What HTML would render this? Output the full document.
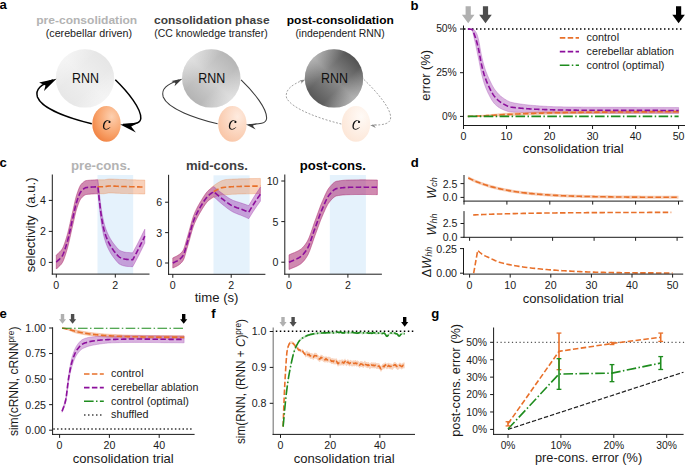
<!DOCTYPE html><html><head><meta charset="utf-8"><style>html,body{margin:0;padding:0;background:#fff;overflow:hidden}svg{display:block}text{font-family:"Liberation Sans",sans-serif}</style></head><body>
<svg width="685" height="465" viewBox="0 0 685 465">
<rect width="685" height="465" fill="#fff"/>
<text x="-0.5" y="9.2" font-size="13.12" text-anchor="start" fill="#000" font-weight="700">a</text>
<text x="410.5" y="9.5" font-size="13.12" text-anchor="start" fill="#000" font-weight="700">b</text>
<text x="-0.5" y="166.8" font-size="13.12" text-anchor="start" fill="#000" font-weight="700">c</text>
<text x="410.8" y="166.5" font-size="13.12" text-anchor="start" fill="#000" font-weight="700">d</text>
<text x="-0.5" y="318.3" font-size="13.12" text-anchor="start" fill="#000" font-weight="700">e</text>
<text x="211.3" y="317.8" font-size="13.12" text-anchor="start" fill="#000" font-weight="700">f</text>
<text x="431.2" y="318.2" font-size="13.12" text-anchor="start" fill="#000" font-weight="700">g</text>
<defs>
<linearGradient id="gPre" x1="1" y1="0" x2="0" y2="1"><stop offset="0" stop-color="#e2e2e2"/><stop offset="0.5" stop-color="#efefef"/><stop offset="1" stop-color="#e4e4e4"/></linearGradient>
<linearGradient id="gMid" x1="1" y1="0" x2="0" y2="1"><stop offset="0" stop-color="#ababab"/><stop offset="0.5" stop-color="#d0d0d0"/><stop offset="1" stop-color="#a8a8a8"/></linearGradient>
<linearGradient id="gPost" x1="1" y1="0" x2="0" y2="1"><stop offset="0" stop-color="#3c3c3c"/><stop offset="0.5" stop-color="#8a8a8a"/><stop offset="1" stop-color="#444444"/></linearGradient>
<linearGradient id="gOv" x1="0" y1="0" x2="1" y2="1"><stop offset="0" stop-color="#fff" stop-opacity="0.6"/><stop offset="0.38" stop-color="#fff" stop-opacity="0"/><stop offset="0.62" stop-color="#fff" stop-opacity="0"/><stop offset="1" stop-color="#fff" stop-opacity="0.6"/></linearGradient>
<radialGradient id="cPre" cx="0.68" cy="0.3" r="0.9"><stop offset="0" stop-color="#fdd0b0"/><stop offset="0.55" stop-color="#f8a26a"/><stop offset="1" stop-color="#ee7430"/></radialGradient>
<radialGradient id="cMid" cx="0.68" cy="0.3" r="0.9"><stop offset="0" stop-color="#feebdf"/><stop offset="1" stop-color="#f8bf9d"/></radialGradient>
<radialGradient id="cPost" cx="0.68" cy="0.3" r="0.9"><stop offset="0" stop-color="#fffaf6"/><stop offset="1" stop-color="#fce3d2"/></radialGradient>
</defs>
<text x="86.7" y="24" font-size="11.46" text-anchor="middle" fill="#b3b3b3" font-weight="700" textLength="100.99" lengthAdjust="spacingAndGlyphs">pre-consolidation</text>
<text x="88.9" y="37" font-size="10.42" text-anchor="middle" fill="#1a1a1a" textLength="86.34" lengthAdjust="spacingAndGlyphs">(cerebellar driven)</text>
<text x="211.8" y="24" font-size="11.46" text-anchor="middle" fill="#404040" font-weight="700" textLength="115.54" lengthAdjust="spacingAndGlyphs">consolidation phase</text>
<text x="211" y="37" font-size="10.42" text-anchor="middle" fill="#1a1a1a" textLength="113.29" lengthAdjust="spacingAndGlyphs">(CC knowledge transfer)</text>
<text x="340.3" y="24.2" font-size="11.46" text-anchor="middle" fill="#000" font-weight="700" textLength="107.02" lengthAdjust="spacingAndGlyphs">post-consolidation</text>
<text x="340.1" y="36.8" font-size="10.42" text-anchor="middle" fill="#1a1a1a" textLength="89.38" lengthAdjust="spacingAndGlyphs">(independent RNN)</text>
<circle cx="85" cy="78.4" r="29.2" fill="url(#gPre)"/>
<circle cx="85" cy="78.4" r="29.2" fill="url(#gOv)"/>
<ellipse cx="106.5" cy="123.9" rx="14.2" ry="17.95" fill="url(#cPre)"/>
<text x="85.5" y="82.9" font-size="13.78" text-anchor="middle" fill="#111" textLength="26.95" lengthAdjust="spacingAndGlyphs">RNN</text>
<path d="M110.1,120.9 C108.6,119.7 106.1,119.9 104.6,121.5 C102.9,123.3 102.6,126.7 103.3,128.3 C104.1,130 106.6,130.1 108.4,128.9 L110.4,127.3 L110.1,127.1 C108.6,128.6 106.6,129.3 105.3,128.8 C103.9,128 103.9,125.2 105.2,122.9 C106.2,121.2 107.9,120.5 108.8,120.9 C108.3,121.5 108.3,122.5 108.9,122.9 C109.7,123.3 110.7,122.5 110.7,121.7Z" fill="#111"/>
<circle cx="211.3" cy="78.4" r="29.2" fill="url(#gMid)"/>
<circle cx="211.3" cy="78.4" r="29.2" fill="url(#gOv)"/>
<ellipse cx="232.4" cy="123.9" rx="14.2" ry="17.95" fill="url(#cMid)"/>
<text x="211.8" y="82.9" font-size="13.78" text-anchor="middle" fill="#111" textLength="26.95" lengthAdjust="spacingAndGlyphs">RNN</text>
<path d="M236,120.9 C234.5,119.7 232,119.9 230.5,121.5 C228.8,123.3 228.5,126.7 229.2,128.3 C230,130 232.5,130.1 234.3,128.9 L236.3,127.3 L236,127.1 C234.5,128.6 232.5,129.3 231.2,128.8 C229.8,128 229.8,125.2 231.1,122.9 C232.1,121.2 233.8,120.5 234.7,120.9 C234.2,121.5 234.2,122.5 234.8,122.9 C235.6,123.3 236.6,122.5 236.6,121.7Z" fill="#111"/>
<circle cx="334" cy="78.4" r="29.2" fill="url(#gPost)"/>
<circle cx="334" cy="78.4" r="29.2" fill="url(#gOv)"/>
<ellipse cx="356" cy="123.9" rx="14.2" ry="17.95" fill="url(#cPost)"/>
<text x="334.5" y="82.9" font-size="13.78" text-anchor="middle" fill="#111" textLength="26.95" lengthAdjust="spacingAndGlyphs">RNN</text>
<path d="M359.6,120.9 C358.1,119.7 355.6,119.9 354.1,121.5 C352.4,123.3 352.1,126.7 352.8,128.3 C353.6,130 356.1,130.1 357.9,128.9 L359.9,127.3 L359.6,127.1 C358.1,128.6 356.1,129.3 354.8,128.8 C353.4,128 353.4,125.2 354.7,122.9 C355.7,121.2 357.4,120.5 358.3,120.9 C357.8,121.5 357.8,122.5 358.4,122.9 C359.2,123.3 360.2,122.5 360.2,121.7Z" fill="#111"/>
<path d="M115.3,79.8 C128,92 141.5,109 140.8,118.5 C140.4,123.6 134,124.3 123,124.5" fill="none" stroke="#000" stroke-width="1.5" />
<path d="M91.8,123.8 C70,118.5 42,109 37.4,97 C35,89 41,84.5 53,80" fill="none" stroke="#000" stroke-width="1.5" />
<path d="M120.2,124.5 L138.6,122.7 L131.2,126.5 L135.9,132.5Z" fill="#000"/>
<path d="M56.5,78.7 L39.1,82.6 L45.5,85.5 L44,91Z" fill="#000"/>
<path d="M241.1,79.8 C253.8,92 267.3,109 266.6,118.5 C266.2,123.6 259.8,124.3 248.8,124.5" fill="none" stroke="#3a3a3a" stroke-width="1.05" />
<path d="M217.6,123.8 C195.8,118.5 167.8,109 163.2,97 C160.8,89 166.8,84.5 178.8,80" fill="none" stroke="#3a3a3a" stroke-width="1.05" />
<path d="M246,124.5 L257.41,123.38 L252.82,125.74 L255.73,129.46Z" fill="#3a3a3a"/>
<path d="M182.3,78.7 L171.51,81.12 L175.48,82.92 L174.55,86.33Z" fill="#3a3a3a"/>
<path d="M364,79.6 C377,92 391.5,109 390.6,118 C390.2,123.8 384,125 372,125.2" fill="none" stroke="#8a8a8a" stroke-width="0.8" stroke-dasharray="2,1.6"/>
<path d="M341.3,124 C320,118.8 292,109 286.6,98 C284.5,90 292,84.5 303,80.2" fill="none" stroke="#8a8a8a" stroke-width="0.8" stroke-dasharray="2,1.6"/>
<path d="M370.2,125.2 L376.5,124.2 L374.2,125.6 L375.8,128Z" fill="#8a8a8a"/>
<path d="M305.4,79.6 L299.5,80.6 L301.6,82 L300.7,84Z" fill="#8a8a8a"/>
<path d="M465.6,6.3 L470.8,6.3 L470.8,14.8 L474.5,14.8 L468.2,23.3 L461.9,14.8 L465.6,14.8Z" fill="#b0b0b0"/>
<path d="M482.9,6.3 L488.1,6.3 L488.1,14.8 L491.8,14.8 L485.5,23.3 L479.2,14.8 L482.9,14.8Z" fill="#4d4d4d"/>
<path d="M676,6.3 L681.2,6.3 L681.2,14.8 L684.9,14.8 L678.6,23.3 L672.3,14.8 L676,14.8Z" fill="#000"/>
<line x1="464" y1="29" x2="682" y2="29" stroke="#000" stroke-width="1.5" stroke-dasharray="1.5,2.5"/>
<path d="M467.8,29 L468.51,29 L469.21,29 L469.92,29 L470.62,29 L471.33,29 L472.03,28.98 L472.74,28.96 L473.44,29.13 L474.15,29.76 L474.85,30.71 L475.56,31.55 L476.26,32.67 L476.97,34.21 L477.67,36.22 L478.38,38.78 L479.08,42.17 L479.79,46.11 L480.49,50.15 L481.2,53.88 L481.9,57.14 L482.61,60.21 L483.31,63.03 L484.02,65.58 L484.72,67.84 L485.43,69.93 L486.13,71.88 L486.84,73.71 L487.54,75.43 L488.25,77.07 L488.95,78.63 L489.66,80.13 L490.36,81.62 L491.07,83.06 L491.77,84.46 L492.48,85.79 L493.18,87.04 L493.89,88.19 L494.59,89.23 L495.3,90.18 L496,91.09 L496.71,91.96 L497.41,92.79 L498.12,93.58 L498.82,94.33 L499.53,95.03 L500.23,95.69 L500.94,96.3 L501.64,96.87 L502.35,97.39 L503.05,97.9 L503.76,98.4 L504.46,98.88 L505.17,99.35 L505.87,99.8 L506.58,100.23 L507.28,100.63 L507.99,101 L508.69,101.35 L509.4,101.65 L510.1,101.92 L510.81,102.15 L511.51,102.35 L512.22,102.52 L512.92,102.68 L513.63,102.83 L514.33,102.97 L515.04,103.11 L515.74,103.23 L516.45,103.35 L517.15,103.47 L517.86,103.58 L518.56,103.68 L519.27,103.79 L519.97,103.89 L520.68,103.99 L521.38,104.1 L522.09,104.2 L522.79,104.3 L523.5,104.39 L524.2,104.49 L524.91,104.58 L525.61,104.67 L526.32,104.75 L527.02,104.84 L527.73,104.92 L528.43,104.99 L529.14,105.06 L529.84,105.14 L530.55,105.2 L531.25,105.27 L531.96,105.33 L532.66,105.39 L533.37,105.45 L534.07,105.5 L534.78,105.56 L535.48,105.61 L536.19,105.67 L536.89,105.72 L537.6,105.77 L538.3,105.82 L539.01,105.88 L539.71,105.93 L540.42,105.97 L541.12,106.02 L541.83,106.07 L542.53,106.11 L543.24,106.16 L543.94,106.2 L544.65,106.24 L545.35,106.28 L546.06,106.32 L546.76,106.36 L547.47,106.4 L548.17,106.43 L548.88,106.47 L549.58,106.5 L550.29,106.53 L550.99,106.56 L551.7,106.59 L552.4,106.62 L553.11,106.65 L553.81,106.67 L554.52,106.69 L555.22,106.72 L555.93,106.73 L556.63,106.75 L557.34,106.77 L558.04,106.78 L558.75,106.8 L559.45,106.81 L560.16,106.82 L560.86,106.84 L561.57,106.85 L562.27,106.86 L562.98,106.88 L563.68,106.89 L564.39,106.9 L565.09,106.91 L565.8,106.92 L566.5,106.93 L567.21,106.95 L567.91,106.96 L568.62,106.97 L569.32,106.98 L570.03,106.99 L570.73,107 L571.44,107.01 L572.14,107.02 L572.85,107.03 L573.55,107.04 L574.26,107.05 L574.96,107.06 L575.67,107.07 L576.37,107.07 L577.08,107.08 L577.78,107.09 L578.49,107.1 L579.19,107.11 L579.9,107.12 L580.6,107.12 L581.31,107.13 L582.01,107.14 L582.72,107.14 L583.42,107.15 L584.13,107.16 L584.83,107.16 L585.54,107.17 L586.24,107.18 L586.95,107.18 L587.65,107.19 L588.36,107.19 L589.06,107.2 L589.77,107.2 L590.47,107.21 L591.18,107.21 L591.88,107.21 L592.59,107.22 L593.29,107.22 L594,107.23 L594.7,107.23 L595.41,107.23 L596.11,107.24 L596.82,107.24 L597.52,107.24 L598.23,107.25 L598.93,107.25 L599.64,107.25 L600.34,107.26 L601.05,107.26 L601.75,107.26 L602.46,107.27 L603.16,107.27 L603.87,107.27 L604.57,107.28 L605.28,107.28 L605.98,107.28 L606.69,107.28 L607.39,107.29 L608.1,107.29 L608.8,107.29 L609.51,107.29 L610.21,107.3 L610.92,107.3 L611.62,107.3 L612.33,107.31 L613.03,107.31 L613.74,107.31 L614.44,107.31 L615.15,107.31 L615.85,107.32 L616.56,107.32 L617.26,107.32 L617.97,107.32 L618.67,107.33 L619.38,107.33 L620.08,107.33 L620.79,107.33 L621.49,107.33 L622.2,107.34 L622.9,107.34 L623.61,107.34 L624.31,107.34 L625.02,107.34 L625.72,107.35 L626.43,107.35 L627.13,107.35 L627.84,107.35 L628.54,107.35 L629.25,107.36 L629.95,107.36 L630.66,107.36 L631.36,107.36 L632.07,107.36 L632.77,107.37 L633.48,107.37 L634.18,107.37 L634.89,107.37 L635.59,107.37 L636.3,107.37 L637,107.38 L637.71,107.38 L638.41,107.38 L639.12,107.38 L639.82,107.38 L640.53,107.38 L641.23,107.39 L641.94,107.39 L642.64,107.39 L643.35,107.39 L644.05,107.39 L644.76,107.39 L645.46,107.4 L646.17,107.4 L646.87,107.4 L647.58,107.4 L648.28,107.4 L648.99,107.4 L649.69,107.41 L650.4,107.41 L651.1,107.41 L651.81,107.41 L652.51,107.41 L653.22,107.41 L653.92,107.42 L654.63,107.42 L655.33,107.42 L656.04,107.42 L656.74,107.42 L657.45,107.42 L658.15,107.43 L658.86,107.43 L659.56,107.43 L660.27,107.43 L660.97,107.43 L661.68,107.43 L662.38,107.44 L663.09,107.44 L663.79,107.44 L664.5,107.44 L665.2,107.44 L665.91,107.45 L666.61,107.45 L667.32,107.45 L668.02,107.45 L668.73,107.45 L669.43,107.46 L670.14,107.46 L670.84,107.46 L671.55,107.46 L672.25,107.46 L672.96,107.47 L673.66,107.47 L674.37,107.47 L675.07,107.47 L675.78,107.48 L676.48,107.48 L677.19,107.48 L677.89,107.48 L678.6,107.49 L678.6,113.43 L677.89,113.43 L677.19,113.43 L676.48,113.43 L675.78,113.43 L675.07,113.43 L674.37,113.43 L673.66,113.43 L672.96,113.43 L672.25,113.42 L671.55,113.42 L670.84,113.42 L670.14,113.42 L669.43,113.42 L668.73,113.42 L668.02,113.42 L667.32,113.42 L666.61,113.42 L665.91,113.42 L665.2,113.42 L664.5,113.42 L663.79,113.42 L663.09,113.42 L662.38,113.42 L661.68,113.42 L660.97,113.42 L660.27,113.42 L659.56,113.42 L658.86,113.42 L658.15,113.42 L657.45,113.42 L656.74,113.42 L656.04,113.42 L655.33,113.42 L654.63,113.42 L653.92,113.42 L653.22,113.41 L652.51,113.41 L651.81,113.41 L651.1,113.41 L650.4,113.41 L649.69,113.41 L648.99,113.41 L648.28,113.41 L647.58,113.41 L646.87,113.41 L646.17,113.41 L645.46,113.41 L644.76,113.41 L644.05,113.41 L643.35,113.41 L642.64,113.41 L641.94,113.41 L641.23,113.41 L640.53,113.41 L639.82,113.41 L639.12,113.41 L638.41,113.41 L637.71,113.41 L637,113.4 L636.3,113.4 L635.59,113.4 L634.89,113.4 L634.18,113.4 L633.48,113.4 L632.77,113.4 L632.07,113.4 L631.36,113.4 L630.66,113.4 L629.95,113.4 L629.25,113.4 L628.54,113.4 L627.84,113.4 L627.13,113.4 L626.43,113.4 L625.72,113.39 L625.02,113.39 L624.31,113.39 L623.61,113.39 L622.9,113.39 L622.2,113.39 L621.49,113.39 L620.79,113.39 L620.08,113.39 L619.38,113.39 L618.67,113.39 L617.97,113.39 L617.26,113.39 L616.56,113.38 L615.85,113.38 L615.15,113.38 L614.44,113.38 L613.74,113.38 L613.03,113.38 L612.33,113.38 L611.62,113.38 L610.92,113.38 L610.21,113.38 L609.51,113.38 L608.8,113.37 L608.1,113.37 L607.39,113.37 L606.69,113.37 L605.98,113.37 L605.28,113.37 L604.57,113.37 L603.87,113.37 L603.16,113.37 L602.46,113.36 L601.75,113.36 L601.05,113.36 L600.34,113.36 L599.64,113.36 L598.93,113.36 L598.23,113.36 L597.52,113.36 L596.82,113.35 L596.11,113.35 L595.41,113.35 L594.7,113.35 L594,113.35 L593.29,113.35 L592.59,113.35 L591.88,113.34 L591.18,113.34 L590.47,113.34 L589.77,113.34 L589.06,113.34 L588.36,113.33 L587.65,113.33 L586.95,113.33 L586.24,113.33 L585.54,113.32 L584.83,113.32 L584.13,113.32 L583.42,113.31 L582.72,113.31 L582.01,113.3 L581.31,113.3 L580.6,113.3 L579.9,113.29 L579.19,113.29 L578.49,113.28 L577.78,113.28 L577.08,113.27 L576.37,113.27 L575.67,113.26 L574.96,113.25 L574.26,113.25 L573.55,113.24 L572.85,113.24 L572.14,113.23 L571.44,113.22 L570.73,113.22 L570.03,113.21 L569.32,113.2 L568.62,113.2 L567.91,113.19 L567.21,113.18 L566.5,113.18 L565.8,113.17 L565.09,113.16 L564.39,113.15 L563.68,113.15 L562.98,113.14 L562.27,113.13 L561.57,113.12 L560.86,113.11 L560.16,113.1 L559.45,113.1 L558.75,113.09 L558.04,113.08 L557.34,113.07 L556.63,113.06 L555.93,113.05 L555.22,113.04 L554.52,113.03 L553.81,113.03 L553.11,113.02 L552.4,113.01 L551.7,113 L550.99,112.99 L550.29,112.98 L549.58,112.98 L548.88,112.97 L548.17,112.96 L547.47,112.95 L546.76,112.94 L546.06,112.94 L545.35,112.93 L544.65,112.92 L543.94,112.91 L543.24,112.9 L542.53,112.89 L541.83,112.89 L541.12,112.88 L540.42,112.87 L539.71,112.86 L539.01,112.85 L538.3,112.84 L537.6,112.83 L536.89,112.82 L536.19,112.81 L535.48,112.8 L534.78,112.79 L534.07,112.78 L533.37,112.77 L532.66,112.76 L531.96,112.75 L531.25,112.74 L530.55,112.72 L529.84,112.7 L529.14,112.68 L528.43,112.65 L527.73,112.63 L527.02,112.6 L526.32,112.58 L525.61,112.55 L524.91,112.52 L524.2,112.49 L523.5,112.47 L522.79,112.44 L522.09,112.42 L521.38,112.39 L520.68,112.37 L519.97,112.35 L519.27,112.33 L518.56,112.31 L517.86,112.3 L517.15,112.28 L516.45,112.26 L515.74,112.24 L515.04,112.22 L514.33,112.19 L513.63,112.16 L512.92,112.12 L512.22,112.07 L511.51,112.02 L510.81,111.95 L510.1,111.84 L509.4,111.72 L508.69,111.56 L507.99,111.38 L507.28,111.19 L506.58,110.97 L505.87,110.73 L505.17,110.48 L504.46,110.21 L503.76,109.93 L503.05,109.64 L502.35,109.34 L501.64,109.02 L500.94,108.66 L500.23,108.27 L499.53,107.85 L498.82,107.39 L498.12,106.89 L497.41,106.36 L496.71,105.79 L496,105.18 L495.3,104.52 L494.59,103.83 L493.89,103.04 L493.18,102.12 L492.48,101.1 L491.77,99.98 L491.07,98.79 L490.36,97.52 L489.66,96.2 L488.95,94.85 L488.25,93.44 L487.54,91.95 L486.84,90.36 L486.13,88.68 L485.43,86.88 L484.72,84.95 L484.02,82.86 L483.31,80.51 L482.61,77.93 L481.9,75.18 L481.2,72.27 L480.49,68.87 L479.79,65.11 L479.08,61.36 L478.38,57.98 L477.67,54.7 L476.97,51.22 L476.26,47.71 L475.56,44.34 L474.85,41.23 L474.15,38.18 L473.44,34.99 L472.74,32.05 L472.03,30.08 L471.33,29.59 L470.62,29.41 L469.92,29.29 L469.21,29.2 L468.51,29.11 L467.8,29Z" fill="#a040b0" fill-opacity="0.4" stroke="#a040b0" stroke-opacity="0.36000000000000004" stroke-width="0.9"/>
<path d="M467.8,116.4 L468.51,116.35 L469.21,116.29 L469.92,116.24 L470.62,116.19 L471.33,116.14 L472.03,116.08 L472.74,116.03 L473.44,115.98 L474.15,115.93 L474.85,115.87 L475.56,115.82 L476.26,115.77 L476.97,115.72 L477.67,115.66 L478.38,115.61 L479.08,115.56 L479.79,115.5 L480.49,115.45 L481.2,115.39 L481.9,115.34 L482.61,115.28 L483.31,115.23 L484.02,115.17 L484.72,115.11 L485.43,115.05 L486.13,114.99 L486.84,114.93 L487.54,114.87 L488.25,114.81 L488.95,114.74 L489.66,114.68 L490.36,114.61 L491.07,114.55 L491.77,114.48 L492.48,114.41 L493.18,114.34 L493.89,114.27 L494.59,114.21 L495.3,114.14 L496,114.07 L496.71,114 L497.41,113.93 L498.12,113.86 L498.82,113.79 L499.53,113.73 L500.23,113.66 L500.94,113.59 L501.64,113.53 L502.35,113.47 L503.05,113.43 L503.76,113.39 L504.46,113.35 L505.17,113.32 L505.87,113.28 L506.58,113.25 L507.28,113.22 L507.99,113.19 L508.69,113.15 L509.4,113.12 L510.1,113.09 L510.81,113.06 L511.51,113.03 L512.22,113 L512.92,112.97 L513.63,112.94 L514.33,112.9 L515.04,112.87 L515.74,112.84 L516.45,112.81 L517.15,112.78 L517.86,112.75 L518.56,112.72 L519.27,112.69 L519.97,112.66 L520.68,112.63 L521.38,112.61 L522.09,112.58 L522.79,112.55 L523.5,112.52 L524.2,112.49 L524.91,112.46 L525.61,112.44 L526.32,112.41 L527.02,112.38 L527.73,112.35 L528.43,112.33 L529.14,112.3 L529.84,112.28 L530.55,112.25 L531.25,112.22 L531.96,112.2 L532.66,112.17 L533.37,112.15 L534.07,112.12 L534.78,112.1 L535.48,112.08 L536.19,112.05 L536.89,112.03 L537.6,112.01 L538.3,111.99 L539.01,111.96 L539.71,111.94 L540.42,111.92 L541.12,111.9 L541.83,111.88 L542.53,111.86 L543.24,111.84 L543.94,111.82 L544.65,111.8 L545.35,111.78 L546.06,111.76 L546.76,111.75 L547.47,111.73 L548.17,111.71 L548.88,111.7 L549.58,111.68 L550.29,111.66 L550.99,111.65 L551.7,111.63 L552.4,111.62 L553.11,111.6 L553.81,111.59 L554.52,111.57 L555.22,111.56 L555.93,111.54 L556.63,111.53 L557.34,111.51 L558.04,111.5 L558.75,111.48 L559.45,111.47 L560.16,111.46 L560.86,111.44 L561.57,111.43 L562.27,111.42 L562.98,111.4 L563.68,111.39 L564.39,111.38 L565.09,111.36 L565.8,111.35 L566.5,111.34 L567.21,111.33 L567.91,111.31 L568.62,111.3 L569.32,111.29 L570.03,111.28 L570.73,111.27 L571.44,111.25 L572.14,111.24 L572.85,111.23 L573.55,111.22 L574.26,111.21 L574.96,111.2 L575.67,111.19 L576.37,111.18 L577.08,111.17 L577.78,111.16 L578.49,111.15 L579.19,111.14 L579.9,111.13 L580.6,111.12 L581.31,111.11 L582.01,111.1 L582.72,111.09 L583.42,111.08 L584.13,111.07 L584.83,111.06 L585.54,111.06 L586.24,111.05 L586.95,111.04 L587.65,111.03 L588.36,111.02 L589.06,111.02 L589.77,111.01 L590.47,111 L591.18,110.99 L591.88,110.99 L592.59,110.98 L593.29,110.97 L594,110.97 L594.7,110.96 L595.41,110.96 L596.11,110.95 L596.82,110.94 L597.52,110.94 L598.23,110.93 L598.93,110.92 L599.64,110.92 L600.34,110.91 L601.05,110.91 L601.75,110.9 L602.46,110.9 L603.16,110.89 L603.87,110.88 L604.57,110.88 L605.28,110.87 L605.98,110.87 L606.69,110.86 L607.39,110.86 L608.1,110.85 L608.8,110.85 L609.51,110.84 L610.21,110.84 L610.92,110.83 L611.62,110.83 L612.33,110.82 L613.03,110.82 L613.74,110.81 L614.44,110.81 L615.15,110.8 L615.85,110.8 L616.56,110.79 L617.26,110.79 L617.97,110.79 L618.67,110.78 L619.38,110.78 L620.08,110.77 L620.79,110.77 L621.49,110.76 L622.2,110.76 L622.9,110.76 L623.61,110.75 L624.31,110.75 L625.02,110.74 L625.72,110.74 L626.43,110.73 L627.13,110.73 L627.84,110.73 L628.54,110.72 L629.25,110.72 L629.95,110.71 L630.66,110.71 L631.36,110.71 L632.07,110.7 L632.77,110.7 L633.48,110.7 L634.18,110.69 L634.89,110.69 L635.59,110.68 L636.3,110.68 L637,110.68 L637.71,110.67 L638.41,110.67 L639.12,110.67 L639.82,110.66 L640.53,110.66 L641.23,110.65 L641.94,110.65 L642.64,110.65 L643.35,110.64 L644.05,110.64 L644.76,110.64 L645.46,110.63 L646.17,110.63 L646.87,110.63 L647.58,110.62 L648.28,110.62 L648.99,110.62 L649.69,110.61 L650.4,110.61 L651.1,110.6 L651.81,110.6 L652.51,110.6 L653.22,110.59 L653.92,110.59 L654.63,110.59 L655.33,110.58 L656.04,110.58 L656.74,110.58 L657.45,110.57 L658.15,110.57 L658.86,110.57 L659.56,110.56 L660.27,110.56 L660.97,110.55 L661.68,110.55 L662.38,110.55 L663.09,110.54 L663.79,110.54 L664.5,110.54 L665.2,110.53 L665.91,110.53 L666.61,110.53 L667.32,110.52 L668.02,110.52 L668.73,110.51 L669.43,110.51 L670.14,110.51 L670.84,110.5 L671.55,110.5 L672.25,110.49 L672.96,110.49 L673.66,110.49 L674.37,110.48 L675.07,110.48 L675.78,110.47 L676.48,110.47 L677.19,110.47 L677.89,110.46 L678.6,110.46 L678.6,112.9 L677.89,112.91 L677.19,112.91 L676.48,112.92 L675.78,112.92 L675.07,112.93 L674.37,112.93 L673.66,112.93 L672.96,112.94 L672.25,112.94 L671.55,112.95 L670.84,112.95 L670.14,112.95 L669.43,112.96 L668.73,112.96 L668.02,112.96 L667.32,112.97 L666.61,112.97 L665.91,112.98 L665.2,112.98 L664.5,112.98 L663.79,112.99 L663.09,112.99 L662.38,112.99 L661.68,113 L660.97,113 L660.27,113.01 L659.56,113.01 L658.86,113.01 L658.15,113.02 L657.45,113.02 L656.74,113.02 L656.04,113.03 L655.33,113.03 L654.63,113.03 L653.92,113.04 L653.22,113.04 L652.51,113.05 L651.81,113.05 L651.1,113.05 L650.4,113.06 L649.69,113.06 L648.99,113.06 L648.28,113.07 L647.58,113.07 L646.87,113.07 L646.17,113.08 L645.46,113.08 L644.76,113.08 L644.05,113.09 L643.35,113.09 L642.64,113.09 L641.94,113.1 L641.23,113.1 L640.53,113.11 L639.82,113.11 L639.12,113.11 L638.41,113.12 L637.71,113.12 L637,113.12 L636.3,113.13 L635.59,113.13 L634.89,113.13 L634.18,113.14 L633.48,113.14 L632.77,113.15 L632.07,113.15 L631.36,113.15 L630.66,113.16 L629.95,113.16 L629.25,113.17 L628.54,113.17 L627.84,113.17 L627.13,113.18 L626.43,113.18 L625.72,113.19 L625.02,113.19 L624.31,113.19 L623.61,113.2 L622.9,113.2 L622.2,113.21 L621.49,113.21 L620.79,113.22 L620.08,113.22 L619.38,113.22 L618.67,113.23 L617.97,113.23 L617.26,113.24 L616.56,113.24 L615.85,113.25 L615.15,113.25 L614.44,113.26 L613.74,113.26 L613.03,113.27 L612.33,113.27 L611.62,113.27 L610.92,113.28 L610.21,113.28 L609.51,113.29 L608.8,113.29 L608.1,113.3 L607.39,113.31 L606.69,113.31 L605.98,113.32 L605.28,113.32 L604.57,113.33 L603.87,113.33 L603.16,113.34 L602.46,113.34 L601.75,113.35 L601.05,113.35 L600.34,113.36 L599.64,113.37 L598.93,113.37 L598.23,113.38 L597.52,113.38 L596.82,113.39 L596.11,113.4 L595.41,113.4 L594.7,113.41 L594,113.42 L593.29,113.42 L592.59,113.43 L591.88,113.43 L591.18,113.44 L590.47,113.45 L589.77,113.46 L589.06,113.46 L588.36,113.47 L587.65,113.48 L586.95,113.49 L586.24,113.49 L585.54,113.5 L584.83,113.51 L584.13,113.52 L583.42,113.53 L582.72,113.54 L582.01,113.55 L581.31,113.56 L580.6,113.56 L579.9,113.57 L579.19,113.58 L578.49,113.59 L577.78,113.6 L577.08,113.61 L576.37,113.62 L575.67,113.63 L574.96,113.65 L574.26,113.66 L573.55,113.67 L572.85,113.68 L572.14,113.69 L571.44,113.7 L570.73,113.71 L570.03,113.72 L569.32,113.74 L568.62,113.75 L567.91,113.76 L567.21,113.77 L566.5,113.78 L565.8,113.8 L565.09,113.81 L564.39,113.82 L563.68,113.84 L562.98,113.85 L562.27,113.86 L561.57,113.88 L560.86,113.89 L560.16,113.9 L559.45,113.92 L558.75,113.93 L558.04,113.95 L557.34,113.96 L556.63,113.97 L555.93,113.99 L555.22,114 L554.52,114.02 L553.81,114.03 L553.11,114.05 L552.4,114.06 L551.7,114.08 L550.99,114.1 L550.29,114.11 L549.58,114.13 L548.88,114.14 L548.17,114.16 L547.47,114.18 L546.76,114.19 L546.06,114.21 L545.35,114.23 L544.65,114.25 L543.94,114.27 L543.24,114.29 L542.53,114.31 L541.83,114.33 L541.12,114.35 L540.42,114.37 L539.71,114.39 L539.01,114.41 L538.3,114.43 L537.6,114.45 L536.89,114.48 L536.19,114.5 L535.48,114.52 L534.78,114.55 L534.07,114.57 L533.37,114.6 L532.66,114.62 L531.96,114.65 L531.25,114.67 L530.55,114.7 L529.84,114.72 L529.14,114.75 L528.43,114.77 L527.73,114.8 L527.02,114.83 L526.32,114.86 L525.61,114.88 L524.91,114.91 L524.2,114.94 L523.5,114.97 L522.79,114.99 L522.09,115.02 L521.38,115.05 L520.68,115.08 L519.97,115.11 L519.27,115.14 L518.56,115.17 L517.86,115.2 L517.15,115.23 L516.45,115.26 L515.74,115.29 L515.04,115.32 L514.33,115.35 L513.63,115.38 L512.92,115.41 L512.22,115.44 L511.51,115.48 L510.81,115.51 L510.1,115.54 L509.4,115.57 L508.69,115.6 L507.99,115.63 L507.28,115.67 L506.58,115.7 L505.87,115.73 L505.17,115.77 L504.46,115.8 L503.76,115.84 L503.05,115.88 L502.35,115.91 L501.64,115.93 L500.94,115.95 L500.23,115.97 L499.53,115.98 L498.82,116 L498.12,116.02 L497.41,116.04 L496.71,116.05 L496,116.07 L495.3,116.09 L494.59,116.11 L493.89,116.13 L493.18,116.15 L492.48,116.17 L491.77,116.18 L491.07,116.2 L490.36,116.22 L489.66,116.23 L488.95,116.25 L488.25,116.26 L487.54,116.27 L486.84,116.29 L486.13,116.3 L485.43,116.31 L484.72,116.32 L484.02,116.32 L483.31,116.33 L482.61,116.34 L481.9,116.34 L481.2,116.35 L480.49,116.35 L479.79,116.36 L479.08,116.36 L478.38,116.36 L477.67,116.37 L476.97,116.37 L476.26,116.37 L475.56,116.37 L474.85,116.38 L474.15,116.38 L473.44,116.38 L472.74,116.38 L472.03,116.38 L471.33,116.39 L470.62,116.39 L469.92,116.39 L469.21,116.39 L468.51,116.4 L467.8,116.4Z" fill="#e8702a" fill-opacity="0.32" stroke="#e8702a" stroke-opacity="0.28800000000000003" stroke-width="0.9"/>
<path d="M467.8,116.4 L468.51,116.37 L469.21,116.34 L469.92,116.32 L470.62,116.29 L471.33,116.26 L472.03,116.23 L472.74,116.21 L473.44,116.18 L474.15,116.15 L474.85,116.12 L475.56,116.1 L476.26,116.07 L476.97,116.04 L477.67,116.01 L478.38,115.99 L479.08,115.96 L479.79,115.93 L480.49,115.9 L481.2,115.87 L481.9,115.84 L482.61,115.81 L483.31,115.78 L484.02,115.75 L484.72,115.71 L485.43,115.68 L486.13,115.65 L486.84,115.61 L487.54,115.57 L488.25,115.53 L488.95,115.5 L489.66,115.46 L490.36,115.41 L491.07,115.37 L491.77,115.33 L492.48,115.29 L493.18,115.24 L493.89,115.2 L494.59,115.16 L495.3,115.11 L496,115.07 L496.71,115.03 L497.41,114.98 L498.12,114.94 L498.82,114.9 L499.53,114.85 L500.23,114.81 L500.94,114.77 L501.64,114.73 L502.35,114.69 L503.05,114.65 L503.76,114.61 L504.46,114.58 L505.17,114.54 L505.87,114.51 L506.58,114.47 L507.28,114.44 L507.99,114.41 L508.69,114.38 L509.4,114.35 L510.1,114.32 L510.81,114.28 L511.51,114.25 L512.22,114.22 L512.92,114.19 L513.63,114.16 L514.33,114.13 L515.04,114.1 L515.74,114.07 L516.45,114.04 L517.15,114.01 L517.86,113.98 L518.56,113.95 L519.27,113.92 L519.97,113.89 L520.68,113.86 L521.38,113.83 L522.09,113.8 L522.79,113.77 L523.5,113.74 L524.2,113.71 L524.91,113.69 L525.61,113.66 L526.32,113.63 L527.02,113.6 L527.73,113.58 L528.43,113.55 L529.14,113.52 L529.84,113.5 L530.55,113.47 L531.25,113.45 L531.96,113.42 L532.66,113.4 L533.37,113.37 L534.07,113.35 L534.78,113.32 L535.48,113.3 L536.19,113.28 L536.89,113.25 L537.6,113.23 L538.3,113.21 L539.01,113.19 L539.71,113.17 L540.42,113.14 L541.12,113.12 L541.83,113.1 L542.53,113.08 L543.24,113.06 L543.94,113.04 L544.65,113.02 L545.35,113.01 L546.06,112.99 L546.76,112.97 L547.47,112.95 L548.17,112.94 L548.88,112.92 L549.58,112.9 L550.29,112.89 L550.99,112.87 L551.7,112.86 L552.4,112.84 L553.11,112.83 L553.81,112.81 L554.52,112.8 L555.22,112.78 L555.93,112.77 L556.63,112.75 L557.34,112.74 L558.04,112.72 L558.75,112.71 L559.45,112.69 L560.16,112.68 L560.86,112.67 L561.57,112.65 L562.27,112.64 L562.98,112.63 L563.68,112.61 L564.39,112.6 L565.09,112.59 L565.8,112.57 L566.5,112.56 L567.21,112.55 L567.91,112.54 L568.62,112.52 L569.32,112.51 L570.03,112.5 L570.73,112.49 L571.44,112.48 L572.14,112.47 L572.85,112.45 L573.55,112.44 L574.26,112.43 L574.96,112.42 L575.67,112.41 L576.37,112.4 L577.08,112.39 L577.78,112.38 L578.49,112.37 L579.19,112.36 L579.9,112.35 L580.6,112.34 L581.31,112.33 L582.01,112.32 L582.72,112.31 L583.42,112.3 L584.13,112.3 L584.83,112.29 L585.54,112.28 L586.24,112.27 L586.95,112.26 L587.65,112.25 L588.36,112.25 L589.06,112.24 L589.77,112.23 L590.47,112.23 L591.18,112.22 L591.88,112.21 L592.59,112.2 L593.29,112.2 L594,112.19 L594.7,112.19 L595.41,112.18 L596.11,112.17 L596.82,112.17 L597.52,112.16 L598.23,112.15 L598.93,112.15 L599.64,112.14 L600.34,112.14 L601.05,112.13 L601.75,112.12 L602.46,112.12 L603.16,112.11 L603.87,112.11 L604.57,112.1 L605.28,112.1 L605.98,112.09 L606.69,112.09 L607.39,112.08 L608.1,112.08 L608.8,112.07 L609.51,112.07 L610.21,112.06 L610.92,112.06 L611.62,112.05 L612.33,112.05 L613.03,112.04 L613.74,112.04 L614.44,112.03 L615.15,112.03 L615.85,112.02 L616.56,112.02 L617.26,112.01 L617.97,112.01 L618.67,112 L619.38,112 L620.08,112 L620.79,111.99 L621.49,111.99 L622.2,111.98 L622.9,111.98 L623.61,111.97 L624.31,111.97 L625.02,111.97 L625.72,111.96 L626.43,111.96 L627.13,111.95 L627.84,111.95 L628.54,111.95 L629.25,111.94 L629.95,111.94 L630.66,111.93 L631.36,111.93 L632.07,111.93 L632.77,111.92 L633.48,111.92 L634.18,111.92 L634.89,111.91 L635.59,111.91 L636.3,111.9 L637,111.9 L637.71,111.9 L638.41,111.89 L639.12,111.89 L639.82,111.89 L640.53,111.88 L641.23,111.88 L641.94,111.87 L642.64,111.87 L643.35,111.87 L644.05,111.86 L644.76,111.86 L645.46,111.86 L646.17,111.85 L646.87,111.85 L647.58,111.85 L648.28,111.84 L648.99,111.84 L649.69,111.84 L650.4,111.83 L651.1,111.83 L651.81,111.83 L652.51,111.82 L653.22,111.82 L653.92,111.81 L654.63,111.81 L655.33,111.81 L656.04,111.8 L656.74,111.8 L657.45,111.8 L658.15,111.79 L658.86,111.79 L659.56,111.79 L660.27,111.78 L660.97,111.78 L661.68,111.77 L662.38,111.77 L663.09,111.77 L663.79,111.76 L664.5,111.76 L665.2,111.76 L665.91,111.75 L666.61,111.75 L667.32,111.74 L668.02,111.74 L668.73,111.74 L669.43,111.73 L670.14,111.73 L670.84,111.73 L671.55,111.72 L672.25,111.72 L672.96,111.71 L673.66,111.71 L674.37,111.71 L675.07,111.7 L675.78,111.7 L676.48,111.69 L677.19,111.69 L677.89,111.68 L678.6,111.68" fill="none" stroke="#e8702a" stroke-width="1.6" stroke-dasharray="5.5,2.4" stroke-linecap="butt" stroke-linejoin="round"/>
<path d="M467.8,29 L468.51,29.05 L469.21,29.1 L469.92,29.15 L470.62,29.21 L471.33,29.29 L472.03,29.53 L472.74,30.5 L473.44,32.06 L474.15,33.97 L474.85,35.97 L475.56,37.94 L476.26,40.19 L476.97,42.71 L477.67,45.46 L478.38,48.38 L479.08,51.77 L479.79,55.61 L480.49,59.51 L481.2,63.08 L481.9,66.16 L482.61,69.07 L483.31,71.77 L484.02,74.22 L484.72,76.4 L485.43,78.4 L486.13,80.28 L486.84,82.04 L487.54,83.69 L488.25,85.25 L488.95,86.74 L489.66,88.17 L490.36,89.57 L491.07,90.93 L491.77,92.22 L492.48,93.45 L493.18,94.58 L493.89,95.61 L494.59,96.53 L495.3,97.35 L496,98.13 L496.71,98.87 L497.41,99.58 L498.12,100.24 L498.82,100.86 L499.53,101.44 L500.23,101.98 L500.94,102.48 L501.64,102.94 L502.35,103.37 L503.05,103.77 L503.76,104.16 L504.46,104.55 L505.17,104.91 L505.87,105.27 L506.58,105.6 L507.28,105.91 L507.99,106.19 L508.69,106.45 L509.4,106.68 L510.1,106.88 L510.81,107.05 L511.51,107.18 L512.22,107.3 L512.92,107.4 L513.63,107.5 L514.33,107.58 L515.04,107.66 L515.74,107.74 L516.45,107.81 L517.15,107.87 L517.86,107.94 L518.56,108 L519.27,108.06 L519.97,108.12 L520.68,108.18 L521.38,108.24 L522.09,108.31 L522.79,108.37 L523.5,108.43 L524.2,108.49 L524.91,108.55 L525.61,108.61 L526.32,108.66 L527.02,108.72 L527.73,108.77 L528.43,108.82 L529.14,108.87 L529.84,108.92 L530.55,108.96 L531.25,109 L531.96,109.04 L532.66,109.07 L533.37,109.11 L534.07,109.14 L534.78,109.18 L535.48,109.21 L536.19,109.24 L536.89,109.27 L537.6,109.3 L538.3,109.33 L539.01,109.36 L539.71,109.39 L540.42,109.42 L541.12,109.45 L541.83,109.48 L542.53,109.5 L543.24,109.53 L543.94,109.56 L544.65,109.58 L545.35,109.61 L546.06,109.63 L546.76,109.65 L547.47,109.68 L548.17,109.7 L548.88,109.72 L549.58,109.74 L550.29,109.76 L550.99,109.78 L551.7,109.8 L552.4,109.81 L553.11,109.83 L553.81,109.85 L554.52,109.86 L555.22,109.88 L555.93,109.89 L556.63,109.91 L557.34,109.92 L558.04,109.93 L558.75,109.94 L559.45,109.95 L560.16,109.96 L560.86,109.97 L561.57,109.99 L562.27,110 L562.98,110.01 L563.68,110.02 L564.39,110.03 L565.09,110.04 L565.8,110.05 L566.5,110.06 L567.21,110.06 L567.91,110.07 L568.62,110.08 L569.32,110.09 L570.03,110.1 L570.73,110.11 L571.44,110.12 L572.14,110.13 L572.85,110.13 L573.55,110.14 L574.26,110.15 L574.96,110.16 L575.67,110.16 L576.37,110.17 L577.08,110.18 L577.78,110.18 L578.49,110.19 L579.19,110.2 L579.9,110.2 L580.6,110.21 L581.31,110.21 L582.01,110.22 L582.72,110.23 L583.42,110.23 L584.13,110.24 L584.83,110.24 L585.54,110.25 L586.24,110.25 L586.95,110.25 L587.65,110.26 L588.36,110.26 L589.06,110.27 L589.77,110.27 L590.47,110.27 L591.18,110.28 L591.88,110.28 L592.59,110.28 L593.29,110.28 L594,110.29 L594.7,110.29 L595.41,110.29 L596.11,110.29 L596.82,110.3 L597.52,110.3 L598.23,110.3 L598.93,110.3 L599.64,110.31 L600.34,110.31 L601.05,110.31 L601.75,110.31 L602.46,110.32 L603.16,110.32 L603.87,110.32 L604.57,110.32 L605.28,110.32 L605.98,110.33 L606.69,110.33 L607.39,110.33 L608.1,110.33 L608.8,110.33 L609.51,110.34 L610.21,110.34 L610.92,110.34 L611.62,110.34 L612.33,110.34 L613.03,110.34 L613.74,110.35 L614.44,110.35 L615.15,110.35 L615.85,110.35 L616.56,110.35 L617.26,110.35 L617.97,110.36 L618.67,110.36 L619.38,110.36 L620.08,110.36 L620.79,110.36 L621.49,110.36 L622.2,110.36 L622.9,110.37 L623.61,110.37 L624.31,110.37 L625.02,110.37 L625.72,110.37 L626.43,110.37 L627.13,110.37 L627.84,110.37 L628.54,110.38 L629.25,110.38 L629.95,110.38 L630.66,110.38 L631.36,110.38 L632.07,110.38 L632.77,110.38 L633.48,110.38 L634.18,110.39 L634.89,110.39 L635.59,110.39 L636.3,110.39 L637,110.39 L637.71,110.39 L638.41,110.39 L639.12,110.39 L639.82,110.39 L640.53,110.4 L641.23,110.4 L641.94,110.4 L642.64,110.4 L643.35,110.4 L644.05,110.4 L644.76,110.4 L645.46,110.4 L646.17,110.4 L646.87,110.4 L647.58,110.41 L648.28,110.41 L648.99,110.41 L649.69,110.41 L650.4,110.41 L651.1,110.41 L651.81,110.41 L652.51,110.41 L653.22,110.41 L653.92,110.42 L654.63,110.42 L655.33,110.42 L656.04,110.42 L656.74,110.42 L657.45,110.42 L658.15,110.42 L658.86,110.42 L659.56,110.42 L660.27,110.42 L660.97,110.43 L661.68,110.43 L662.38,110.43 L663.09,110.43 L663.79,110.43 L664.5,110.43 L665.2,110.43 L665.91,110.43 L666.61,110.43 L667.32,110.44 L668.02,110.44 L668.73,110.44 L669.43,110.44 L670.14,110.44 L670.84,110.44 L671.55,110.44 L672.25,110.44 L672.96,110.45 L673.66,110.45 L674.37,110.45 L675.07,110.45 L675.78,110.45 L676.48,110.45 L677.19,110.45 L677.89,110.46 L678.6,110.46" fill="none" stroke="#8c0f9c" stroke-width="1.6" stroke-dasharray="5.5,2.4" stroke-linecap="butt" stroke-linejoin="round"/>
<line x1="467.8" y1="116.4" x2="678.6" y2="116.4" stroke="#1e8c1e" stroke-width="1.6" stroke-dasharray="9.6,2.4,1.5,2.4"/>
<line x1="463.5" y1="25.5" x2="463.5" y2="126" stroke="#1a1a1a" stroke-width="1"/>
<line x1="463" y1="125.5" x2="685" y2="125.5" stroke="#1a1a1a" stroke-width="1"/>
<line x1="460" y1="116.4" x2="463.5" y2="116.4" stroke="#1a1a1a" stroke-width="1"/>
<text x="456.8" y="119.7" font-size="10.42" text-anchor="end" fill="#1a1a1a" textLength="14.75" lengthAdjust="spacingAndGlyphs">0%</text>
<line x1="460" y1="72.7" x2="463.5" y2="72.7" stroke="#1a1a1a" stroke-width="1"/>
<text x="456.8" y="76" font-size="10.42" text-anchor="end" fill="#1a1a1a" textLength="20.67" lengthAdjust="spacingAndGlyphs">25%</text>
<line x1="460" y1="29" x2="463.5" y2="29" stroke="#1a1a1a" stroke-width="1"/>
<text x="456.8" y="32.3" font-size="10.42" text-anchor="end" fill="#1a1a1a" textLength="20.67" lengthAdjust="spacingAndGlyphs">50%</text>
<line x1="463.5" y1="125.5" x2="463.5" y2="129" stroke="#1a1a1a" stroke-width="1"/>
<text x="463.5" y="139.5" font-size="10.42" text-anchor="middle" fill="#1a1a1a" textLength="5.92" lengthAdjust="spacingAndGlyphs">0</text>
<line x1="506.52" y1="125.5" x2="506.52" y2="129" stroke="#1a1a1a" stroke-width="1"/>
<text x="506.52" y="139.5" font-size="10.42" text-anchor="middle" fill="#1a1a1a" textLength="11.83" lengthAdjust="spacingAndGlyphs">10</text>
<line x1="549.54" y1="125.5" x2="549.54" y2="129" stroke="#1a1a1a" stroke-width="1"/>
<text x="549.54" y="139.5" font-size="10.42" text-anchor="middle" fill="#1a1a1a" textLength="11.83" lengthAdjust="spacingAndGlyphs">20</text>
<line x1="592.56" y1="125.5" x2="592.56" y2="129" stroke="#1a1a1a" stroke-width="1"/>
<text x="592.56" y="139.5" font-size="10.42" text-anchor="middle" fill="#1a1a1a" textLength="11.83" lengthAdjust="spacingAndGlyphs">30</text>
<line x1="635.58" y1="125.5" x2="635.58" y2="129" stroke="#1a1a1a" stroke-width="1"/>
<text x="635.58" y="139.5" font-size="10.42" text-anchor="middle" fill="#1a1a1a" textLength="11.83" lengthAdjust="spacingAndGlyphs">40</text>
<line x1="678.6" y1="125.5" x2="678.6" y2="129" stroke="#1a1a1a" stroke-width="1"/>
<text x="678.6" y="139.5" font-size="10.42" text-anchor="middle" fill="#1a1a1a" textLength="11.83" lengthAdjust="spacingAndGlyphs">50</text>
<text x="430.3" y="75.3" font-size="12.66" text-anchor="middle" fill="#1a1a1a" textLength="50.95" lengthAdjust="spacingAndGlyphs" transform="rotate(-90 430.3 75.3)">error (%)</text>
<text x="573.3" y="153" font-size="12.66" text-anchor="middle" fill="#1a1a1a" textLength="100.98" lengthAdjust="spacingAndGlyphs">consolidation trial</text>
<line x1="559.8" y1="37.9" x2="579" y2="37.9" stroke="#e8702a" stroke-width="1.6" stroke-dasharray="5.5,2.4"/>
<text x="586.6" y="41.2" font-size="10.42" text-anchor="start" fill="#1a1a1a" textLength="32.44" lengthAdjust="spacingAndGlyphs">control</text>
<line x1="559.8" y1="51.6" x2="579" y2="51.6" stroke="#8c0f9c" stroke-width="1.6" stroke-dasharray="5.5,2.4"/>
<text x="586.6" y="54.9" font-size="10.42" text-anchor="start" fill="#1a1a1a" textLength="87.35" lengthAdjust="spacingAndGlyphs">cerebellar ablation</text>
<line x1="559.8" y1="65.3" x2="579" y2="65.3" stroke="#1e8c1e" stroke-width="1.6" stroke-dasharray="9.6,2.4,1.5,2.4"/>
<text x="586.6" y="68.6" font-size="10.42" text-anchor="start" fill="#1a1a1a" textLength="77.82" lengthAdjust="spacingAndGlyphs">control (optimal)</text>
<text x="-0.5" y="166.8" font-size="1.12" text-anchor="middle" fill="#1a1a1a"></text>
<text x="100.7" y="169.8" font-size="12.66" text-anchor="middle" fill="#b3b3b3" font-weight="700" textLength="59.54" lengthAdjust="spacingAndGlyphs">pre-cons.</text>
<text x="216.9" y="169.5" font-size="12.66" text-anchor="middle" fill="#404040" font-weight="700" textLength="61.95" lengthAdjust="spacingAndGlyphs">mid-cons.</text>
<text x="332.9" y="169.6" font-size="12.66" text-anchor="middle" fill="#000" font-weight="700" textLength="66.19" lengthAdjust="spacingAndGlyphs">post-cons.</text>
<text x="34.8" y="224.9" font-size="12.66" text-anchor="middle" fill="#1a1a1a" textLength="94.93" lengthAdjust="spacingAndGlyphs" transform="rotate(-90 34.8 224.9)" xml:space="preserve">selectivity  (a.u.)</text>
<text x="216.6" y="302.2" font-size="12.66" text-anchor="middle" fill="#1a1a1a" textLength="43.83" lengthAdjust="spacingAndGlyphs">time (s)</text>
<rect x="97.5" y="175" width="35.7" height="99.1" fill="#e5f2fc"/>
<path d="M56.3,255.11 L56.89,254.52 L57.49,253.96 L58.08,253.43 L58.68,252.9 L59.27,252.36 L59.86,251.79 L60.46,251.17 L61.05,250.49 L61.65,249.72 L62.24,248.85 L62.83,247.79 L63.43,246.5 L64.02,245.01 L64.62,243.36 L65.21,241.58 L65.8,239.7 L66.4,237.77 L66.99,235.81 L67.59,233.72 L68.18,231.43 L68.77,228.98 L69.37,226.41 L69.96,223.77 L70.56,221.08 L71.15,218.38 L71.74,215.72 L72.34,213.13 L72.93,210.58 L73.52,207.91 L74.12,205.19 L74.71,202.5 L75.31,199.93 L75.9,197.56 L76.49,195.48 L77.09,193.66 L77.68,191.89 L78.28,190.21 L78.87,188.64 L79.46,187.22 L80.06,185.99 L80.65,184.99 L81.25,184.25 L81.84,183.6 L82.43,182.99 L83.03,182.44 L83.62,181.94 L84.22,181.5 L84.81,181.13 L85.4,180.84 L86,180.64 L86.59,180.53 L87.19,180.45 L87.78,180.38 L88.37,180.32 L88.97,180.27 L89.56,180.23 L90.16,180.19 L90.75,180.15 L91.34,180.12 L91.94,180.08 L92.53,180.04 L93.13,180 L93.72,179.96 L94.31,179.92 L94.91,179.88 L95.5,179.85 L96.1,179.82 L96.69,179.8 L97.28,179.79 L97.88,179.79 L98.47,179.78 L99.07,179.78 L99.66,179.78 L100.25,179.78 L100.85,179.78 L101.44,179.78 L102.03,179.78 L102.63,179.78 L103.22,179.78 L103.82,179.78 L104.41,179.74 L105,179.66 L105.6,179.56 L106.19,179.45 L106.79,179.33 L107.38,179.22 L107.97,179.12 L108.57,179.05 L109.16,179.01 L109.76,179.01 L110.35,179.02 L110.94,179.03 L111.54,179.04 L112.13,179.06 L112.73,179.08 L113.32,179.1 L113.91,179.13 L114.51,179.16 L115.1,179.19 L115.7,179.22 L116.29,179.25 L116.88,179.28 L117.48,179.31 L118.07,179.34 L118.67,179.37 L119.26,179.4 L119.85,179.42 L120.45,179.45 L121.04,179.47 L121.64,179.49 L122.23,179.51 L122.82,179.52 L123.42,179.54 L124.01,179.56 L124.61,179.57 L125.2,179.59 L125.79,179.6 L126.39,179.62 L126.98,179.63 L127.58,179.65 L128.17,179.66 L128.76,179.68 L129.36,179.69 L129.95,179.71 L130.54,179.72 L131.14,179.74 L131.73,179.75 L132.33,179.77 L132.92,179.78 L133.51,179.8 L134.11,179.81 L134.7,179.83 L135.3,179.85 L135.89,179.86 L136.48,179.88 L137.08,179.89 L137.67,179.91 L138.27,179.92 L138.86,179.94 L139.45,179.95 L140.05,179.97 L140.64,179.99 L141.24,180 L141.83,180.02 L142.42,180.03 L143.02,180.05 L143.61,180.06 L144.21,180.08 L144.8,180.09 L144.8,194.04 L144.21,194.03 L143.61,194.01 L143.02,194 L142.42,193.98 L141.83,193.97 L141.24,193.95 L140.64,193.94 L140.05,193.92 L139.45,193.9 L138.86,193.89 L138.27,193.87 L137.67,193.86 L137.08,193.84 L136.48,193.83 L135.89,193.81 L135.3,193.8 L134.7,193.78 L134.11,193.76 L133.51,193.75 L132.92,193.73 L132.33,193.72 L131.73,193.7 L131.14,193.69 L130.54,193.67 L129.95,193.66 L129.36,193.64 L128.76,193.63 L128.17,193.61 L127.58,193.6 L126.98,193.58 L126.39,193.57 L125.79,193.55 L125.2,193.54 L124.61,193.52 L124.01,193.51 L123.42,193.49 L122.82,193.47 L122.23,193.46 L121.64,193.44 L121.04,193.42 L120.45,193.4 L119.85,193.37 L119.26,193.35 L118.67,193.32 L118.07,193.29 L117.48,193.26 L116.88,193.23 L116.29,193.2 L115.7,193.17 L115.1,193.14 L114.51,193.11 L113.91,193.08 L113.32,193.05 L112.73,193.03 L112.13,193.01 L111.54,192.99 L110.94,192.98 L110.35,192.97 L109.76,192.96 L109.16,192.96 L108.57,193 L107.97,193.07 L107.38,193.17 L106.79,193.28 L106.19,193.4 L105.6,193.51 L105,193.61 L104.41,193.69 L103.82,193.73 L103.22,193.73 L102.63,193.73 L102.03,193.73 L101.44,193.73 L100.85,193.73 L100.25,193.73 L99.66,193.73 L99.07,193.73 L98.47,193.73 L97.88,193.74 L97.28,193.74 L96.69,193.75 L96.1,193.77 L95.5,193.8 L94.91,193.83 L94.31,193.87 L93.72,193.91 L93.13,193.95 L92.53,193.99 L91.94,194.03 L91.34,194.07 L90.75,194.1 L90.16,194.14 L89.56,194.18 L88.97,194.22 L88.37,194.27 L87.78,194.33 L87.19,194.4 L86.59,194.48 L86,194.59 L85.4,194.79 L84.81,195.08 L84.22,195.45 L83.62,195.89 L83.03,196.39 L82.43,196.94 L81.84,197.55 L81.25,198.2 L80.65,198.94 L80.06,199.94 L79.46,201.17 L78.87,202.59 L78.28,204.16 L77.68,205.84 L77.09,207.61 L76.49,209.43 L75.9,211.51 L75.31,213.88 L74.71,216.45 L74.12,219.14 L73.52,221.86 L72.93,224.53 L72.34,227.08 L71.74,229.67 L71.15,232.33 L70.56,235.03 L69.96,237.72 L69.37,240.36 L68.77,242.93 L68.18,245.38 L67.59,247.67 L66.99,249.76 L66.4,251.72 L65.8,253.65 L65.21,255.53 L64.62,257.31 L64.02,258.96 L63.43,260.45 L62.83,261.74 L62.24,262.8 L61.65,263.67 L61.05,264.44 L60.46,265.12 L59.86,265.74 L59.27,266.31 L58.68,266.85 L58.08,267.38 L57.49,267.91 L56.89,268.47 L56.3,269.06Z" fill="#e8702a" fill-opacity="0.32" stroke="#e8702a" stroke-opacity="0.28800000000000003" stroke-width="0.9"/>
<path d="M56.3,255.11 L56.89,254.52 L57.49,253.96 L58.08,253.43 L58.68,252.9 L59.27,252.36 L59.86,251.79 L60.46,251.17 L61.05,250.49 L61.65,249.72 L62.24,248.85 L62.83,247.79 L63.43,246.5 L64.02,245.01 L64.62,243.36 L65.21,241.58 L65.8,239.7 L66.4,237.77 L66.99,235.81 L67.59,233.72 L68.18,231.43 L68.77,228.98 L69.37,226.41 L69.96,223.77 L70.56,221.08 L71.15,218.38 L71.74,215.72 L72.34,213.13 L72.93,210.58 L73.52,207.91 L74.12,205.19 L74.71,202.5 L75.31,199.93 L75.9,197.56 L76.49,195.48 L77.09,193.66 L77.68,191.89 L78.28,190.21 L78.87,188.64 L79.46,187.22 L80.06,185.99 L80.65,184.99 L81.25,184.25 L81.84,183.6 L82.43,182.99 L83.03,182.44 L83.62,181.94 L84.22,181.5 L84.81,181.13 L85.4,180.84 L86,180.64 L86.59,180.53 L87.19,180.45 L87.78,180.38 L88.37,180.32 L88.97,180.27 L89.56,180.23 L90.16,180.19 L90.75,180.15 L91.34,180.12 L91.94,180.08 L92.53,180.04 L93.13,180.01 L93.72,179.98 L94.31,179.95 L94.91,179.92 L95.5,179.9 L96.1,179.87 L96.69,179.84 L97.28,179.81 L97.88,179.79 L97.89,179.78 L98.47,185.19 L99.07,190.77 L99.66,196.01 L100.25,200.95 L100.85,205.69 L101.44,209.92 L102.03,213.46 L102.63,216.65 L103.22,219.55 L103.82,222.15 L104.41,224.43 L105,226.4 L105.6,228.19 L106.19,229.85 L106.79,231.38 L107.38,232.8 L107.97,234.12 L108.57,235.36 L109.16,236.53 L109.76,237.64 L110.35,238.69 L110.94,239.68 L111.54,240.62 L112.13,241.51 L112.73,242.36 L113.32,243.17 L113.91,243.94 L114.51,244.69 L115.1,245.44 L115.7,246.2 L116.29,246.94 L116.88,247.66 L117.48,248.34 L118.07,248.97 L118.67,249.53 L119.26,250 L119.85,250.38 L120.45,250.67 L121.04,250.94 L121.64,251.19 L122.23,251.41 L122.82,251.62 L123.42,251.81 L124.01,251.97 L124.61,252.11 L125.2,252.22 L125.79,252.31 L126.39,252.38 L126.98,252.43 L127.58,252.48 L128.17,252.53 L128.76,252.56 L129.36,252.6 L129.95,252.63 L130.54,252.66 L131.14,252.7 L131.73,252.73 L132.33,252.76 L132.7,252.79 L132.92,252.39 L133.51,251.29 L134.11,250.2 L134.7,249.11 L135.3,248.02 L135.89,246.92 L136.48,245.8 L137.08,244.67 L137.67,243.53 L138.27,242.37 L138.86,241.2 L139.45,240.02 L140.05,238.83 L140.64,237.63 L141.24,236.43 L141.83,235.23 L142.42,234.02 L143.02,232.82 L143.61,231.62 L144.21,230.42 L144.8,229.23 L144.8,243.18 L144.21,244.37 L143.61,245.57 L143.02,246.77 L142.42,247.97 L141.83,249.18 L141.24,250.38 L140.64,251.58 L140.05,252.78 L139.45,253.97 L138.86,255.15 L138.27,256.32 L137.67,257.48 L137.08,258.62 L136.48,259.75 L135.89,260.87 L135.3,261.97 L134.7,263.06 L134.11,264.15 L133.51,265.24 L132.92,266.34 L132.7,266.74 L132.33,266.71 L131.73,266.68 L131.14,266.65 L130.54,266.61 L129.95,266.58 L129.36,266.55 L128.76,266.51 L128.17,266.48 L127.58,266.43 L126.98,266.38 L126.39,266.33 L125.79,266.26 L125.2,266.17 L124.61,266.06 L124.01,265.92 L123.42,265.76 L122.82,265.57 L122.23,265.36 L121.64,265.14 L121.04,264.89 L120.45,264.62 L119.85,264.33 L119.26,263.95 L118.67,263.48 L118.07,262.92 L117.48,262.29 L116.88,261.61 L116.29,260.89 L115.7,260.15 L115.1,259.39 L114.51,258.64 L113.91,257.89 L113.32,257.12 L112.73,256.31 L112.13,255.46 L111.54,254.57 L110.94,253.63 L110.35,252.64 L109.76,251.59 L109.16,250.48 L108.57,249.31 L107.97,248.07 L107.38,246.75 L106.79,245.33 L106.19,243.8 L105.6,242.14 L105,240.35 L104.41,238.38 L103.82,236.1 L103.22,233.5 L102.63,230.6 L102.03,227.41 L101.44,223.87 L100.85,219.64 L100.25,214.9 L99.66,209.96 L99.07,204.72 L98.47,199.14 L97.89,193.73 L97.88,193.74 L97.28,193.76 L96.69,193.79 L96.1,193.82 L95.5,193.85 L94.91,193.87 L94.31,193.9 L93.72,193.93 L93.13,193.96 L92.53,193.99 L91.94,194.03 L91.34,194.07 L90.75,194.1 L90.16,194.14 L89.56,194.18 L88.97,194.22 L88.37,194.27 L87.78,194.33 L87.19,194.4 L86.59,194.48 L86,194.59 L85.4,194.79 L84.81,195.08 L84.22,195.45 L83.62,195.89 L83.03,196.39 L82.43,196.94 L81.84,197.55 L81.25,198.2 L80.65,198.94 L80.06,199.94 L79.46,201.17 L78.87,202.59 L78.28,204.16 L77.68,205.84 L77.09,207.61 L76.49,209.43 L75.9,211.51 L75.31,213.88 L74.71,216.45 L74.12,219.14 L73.52,221.86 L72.93,224.53 L72.34,227.08 L71.74,229.67 L71.15,232.33 L70.56,235.03 L69.96,237.72 L69.37,240.36 L68.77,242.93 L68.18,245.38 L67.59,247.67 L66.99,249.76 L66.4,251.72 L65.8,253.65 L65.21,255.53 L64.62,257.31 L64.02,258.96 L63.43,260.45 L62.83,261.74 L62.24,262.8 L61.65,263.67 L61.05,264.44 L60.46,265.12 L59.86,265.74 L59.27,266.31 L58.68,266.85 L58.08,267.38 L57.49,267.91 L56.89,268.47 L56.3,269.06Z" fill="#8c0f9c" fill-opacity="0.37" stroke="#8c0f9c" stroke-opacity="0.333" stroke-width="0.9"/>
<path d="M97.6,186.76 L98.4,186.76 L99.2,186.76 L100,186.76 L100.8,186.76 L101.6,186.76 L102.4,186.76 L103.2,186.76 L104,186.74 L104.8,186.66 L105.6,186.54 L106.4,186.38 L107.2,186.23 L108,186.1 L108.8,186.01 L109.6,185.99 L110.4,185.99 L111.2,186.01 L112,186.03 L112.8,186.06 L113.6,186.09 L114.4,186.13 L115.2,186.17 L116,186.21 L116.8,186.25 L117.6,186.29 L118.4,186.33 L119.2,186.37 L120,186.41 L120.8,186.44 L121.6,186.46 L122.4,186.49 L123.2,186.51 L124,186.53 L124.8,186.55 L125.6,186.57 L126.4,186.6 L127.2,186.62 L128,186.64 L128.8,186.65 L129.6,186.67 L130.4,186.69 L131.2,186.71 L132,186.73 L132.8,186.75 L133.6,186.78 L134.4,186.8 L135.2,186.82 L136,186.84 L136.8,186.86 L137.6,186.88 L138.4,186.9 L139.2,186.92 L140,186.94 L140.8,186.96 L141.6,186.99 L142.4,187.01 L143.2,187.03 L144,187.05 L144.8,187.07" fill="none" stroke="#e8702a" stroke-width="1.6" stroke-dasharray="5.5,2.4" stroke-linecap="butt" stroke-linejoin="round"/>
<path d="M56.3,262.09 L56.89,261.49 L57.49,260.94 L58.08,260.4 L58.68,259.87 L59.27,259.33 L59.86,258.76 L60.46,258.15 L61.05,257.46 L61.65,256.7 L62.24,255.83 L62.83,254.77 L63.43,253.47 L64.02,251.98 L64.62,250.33 L65.21,248.55 L65.8,246.68 L66.4,244.75 L66.99,242.79 L67.59,240.69 L68.18,238.4 L68.77,235.96 L69.37,233.39 L69.96,230.74 L70.56,228.05 L71.15,225.36 L71.74,222.7 L72.34,220.11 L72.93,217.56 L73.52,214.89 L74.12,212.17 L74.71,209.48 L75.31,206.91 L75.9,204.54 L76.49,202.45 L77.09,200.63 L77.68,198.87 L78.28,197.18 L78.87,195.61 L79.46,194.2 L80.06,192.97 L80.65,191.97 L81.25,191.22 L81.84,190.58 L82.43,189.97 L83.03,189.41 L83.62,188.91 L84.22,188.47 L84.81,188.11 L85.4,187.82 L86,187.62 L86.59,187.5 L87.19,187.42 L87.78,187.35 L88.37,187.3 L88.97,187.25 L89.56,187.2 L90.16,187.17 L90.75,187.13 L91.34,187.09 L91.94,187.06 L92.53,187.02 L93.13,186.99 L93.72,186.96 L94.31,186.93 L94.91,186.9 L95.5,186.87 L96.1,186.84 L96.69,186.82 L97.28,186.79 L97.88,186.76 L97.89,186.76 L98.47,192.17 L99.07,197.75 L99.66,202.99 L100.25,207.93 L100.85,212.67 L101.44,216.9 L102.03,220.43 L102.63,223.62 L103.22,226.53 L103.82,229.13 L104.41,231.41 L105,233.38 L105.6,235.17 L106.19,236.83 L106.79,238.36 L107.38,239.78 L107.97,241.1 L108.57,242.34 L109.16,243.5 L109.76,244.61 L110.35,245.66 L110.94,246.65 L111.54,247.59 L112.13,248.48 L112.73,249.33 L113.32,250.14 L113.91,250.92 L114.51,251.67 L115.1,252.42 L115.7,253.17 L116.29,253.92 L116.88,254.64 L117.48,255.32 L118.07,255.95 L118.67,256.5 L119.26,256.98 L119.85,257.35 L120.45,257.64 L121.04,257.91 L121.64,258.16 L122.23,258.39 L122.82,258.6 L123.42,258.78 L124.01,258.95 L124.61,259.08 L125.2,259.2 L125.79,259.28 L126.39,259.35 L126.98,259.41 L127.58,259.46 L128.17,259.5 L128.76,259.54 L129.36,259.57 L129.95,259.61 L130.54,259.64 L131.14,259.67 L131.73,259.7 L132.33,259.74 L132.7,259.76 L132.92,259.36 L133.51,258.27 L134.11,257.18 L134.7,256.09 L135.3,254.99 L135.89,253.89 L136.48,252.78 L137.08,251.65 L137.67,250.5 L138.27,249.34 L138.86,248.17 L139.45,246.99 L140.05,245.8 L140.64,244.61 L141.24,243.41 L141.83,242.2 L142.42,241 L143.02,239.8 L143.61,238.59 L144.21,237.4 L144.8,236.2" fill="none" stroke="#8c0f9c" stroke-width="1.6" stroke-dasharray="5.5,2.4" stroke-linecap="butt" stroke-linejoin="round"/>
<line x1="52.3" y1="174.5" x2="52.3" y2="274.6" stroke="#1a1a1a" stroke-width="1"/>
<line x1="51.8" y1="274.1" x2="149.5" y2="274.1" stroke="#1a1a1a" stroke-width="1"/>
<line x1="48.8" y1="262.4" x2="52.3" y2="262.4" stroke="#1a1a1a" stroke-width="1"/>
<text x="46" y="266.3" font-size="10.42" text-anchor="end" fill="#1a1a1a" textLength="5.92" lengthAdjust="spacingAndGlyphs">0</text>
<line x1="48.8" y1="231.4" x2="52.3" y2="231.4" stroke="#1a1a1a" stroke-width="1"/>
<text x="46" y="235.3" font-size="10.42" text-anchor="end" fill="#1a1a1a" textLength="5.92" lengthAdjust="spacingAndGlyphs">2</text>
<line x1="48.8" y1="200.4" x2="52.3" y2="200.4" stroke="#1a1a1a" stroke-width="1"/>
<text x="46" y="204.3" font-size="10.42" text-anchor="end" fill="#1a1a1a" textLength="5.92" lengthAdjust="spacingAndGlyphs">4</text>
<line x1="56.3" y1="274.1" x2="56.3" y2="277.6" stroke="#1a1a1a" stroke-width="1"/>
<text x="56.3" y="288.7" font-size="10.42" text-anchor="middle" fill="#1a1a1a" textLength="5.92" lengthAdjust="spacingAndGlyphs">0</text>
<line x1="115.3" y1="274.1" x2="115.3" y2="277.6" stroke="#1a1a1a" stroke-width="1"/>
<text x="115.3" y="288.7" font-size="10.42" text-anchor="middle" fill="#1a1a1a" textLength="5.92" lengthAdjust="spacingAndGlyphs">2</text>
<rect x="213.5" y="175.3" width="36.1" height="99" fill="#e5f2fc"/>
<path d="M172.8,257.94 L173.39,257.64 L173.98,257.36 L174.56,257.08 L175.15,256.81 L175.74,256.53 L176.33,256.25 L176.92,255.94 L177.5,255.62 L178.09,255.26 L178.68,254.87 L179.27,254.45 L179.86,254 L180.44,253.51 L181.03,252.97 L181.62,252.36 L182.21,251.66 L182.79,250.87 L183.38,249.91 L183.97,248.54 L184.56,246.85 L185.15,244.91 L185.73,242.83 L186.32,240.7 L186.91,238.61 L187.5,236.65 L188.09,234.68 L188.67,232.63 L189.26,230.52 L189.85,228.37 L190.44,226.22 L191.03,224.09 L191.61,222.01 L192.2,220.01 L192.79,218.11 L193.38,216.35 L193.97,214.76 L194.55,213.31 L195.14,211.95 L195.73,210.65 L196.32,209.4 L196.9,208.22 L197.49,207.07 L198.08,205.98 L198.67,204.91 L199.26,203.88 L199.84,202.87 L200.43,201.88 L201.02,200.89 L201.61,199.92 L202.2,198.95 L202.78,197.99 L203.37,197.05 L203.96,196.13 L204.55,195.25 L205.14,194.4 L205.72,193.58 L206.31,192.82 L206.9,192.1 L207.49,191.44 L208.08,190.81 L208.66,190.16 L209.25,189.53 L209.84,188.93 L210.43,188.36 L211.01,187.82 L211.6,187.3 L212.19,186.81 L212.78,186.34 L213.37,185.9 L213.95,185.48 L214.54,185.07 L215.13,184.66 L215.72,184.25 L216.31,183.84 L216.89,183.45 L217.48,183.06 L218.07,182.69 L218.66,182.33 L219.25,181.98 L219.83,181.65 L220.42,181.35 L221.01,181.06 L221.6,180.79 L222.19,180.55 L222.77,180.34 L223.36,180.15 L223.95,180 L224.54,179.84 L225.12,179.7 L225.71,179.6 L226.3,179.54 L226.89,179.49 L227.48,179.44 L228.06,179.39 L228.65,179.35 L229.24,179.3 L229.83,179.26 L230.42,179.23 L231,179.19 L231.59,179.16 L232.18,179.12 L232.77,179.1 L233.36,179.07 L233.94,179.04 L234.53,179.02 L235.12,178.99 L235.71,178.97 L236.3,178.95 L236.88,178.93 L237.47,178.91 L238.06,178.89 L238.65,178.87 L239.23,178.85 L239.82,178.83 L240.41,178.82 L241,178.8 L241.59,178.78 L242.17,178.77 L242.76,178.76 L243.35,178.74 L243.94,178.73 L244.53,178.71 L245.11,178.7 L245.7,178.69 L246.29,178.68 L246.88,178.67 L247.47,178.65 L248.05,178.64 L248.64,178.63 L249.23,178.62 L249.82,178.61 L250.41,178.6 L250.99,178.59 L251.58,178.58 L252.17,178.57 L252.76,178.56 L253.34,178.55 L253.93,178.54 L254.52,178.53 L255.11,178.52 L255.7,178.51 L256.28,178.5 L256.87,178.49 L257.46,178.47 L258.05,178.46 L258.64,178.45 L259.22,178.44 L259.81,178.43 L260.4,178.41 L260.4,193.61 L259.81,193.62 L259.22,193.63 L258.64,193.65 L258.05,193.66 L257.46,193.67 L256.87,193.68 L256.28,193.69 L255.7,193.7 L255.11,193.71 L254.52,193.72 L253.93,193.73 L253.34,193.74 L252.76,193.75 L252.17,193.76 L251.58,193.77 L250.99,193.78 L250.41,193.79 L249.82,193.81 L249.23,193.82 L248.64,193.83 L248.05,193.84 L247.47,193.85 L246.88,193.86 L246.29,193.87 L245.7,193.88 L245.11,193.9 L244.53,193.91 L243.94,193.92 L243.35,193.94 L242.76,193.95 L242.17,193.96 L241.59,193.98 L241,194 L240.41,194.01 L239.82,194.03 L239.23,194.05 L238.65,194.06 L238.06,194.08 L237.47,194.1 L236.88,194.12 L236.3,194.14 L235.71,194.16 L235.12,194.19 L234.53,194.21 L233.94,194.24 L233.36,194.26 L232.77,194.29 L232.18,194.32 L231.59,194.35 L231,194.38 L230.42,194.42 L229.83,194.46 L229.24,194.5 L228.65,194.54 L228.06,194.59 L227.48,194.63 L226.89,194.68 L226.3,194.74 L225.71,194.8 L225.12,194.82 L224.54,194.8 L223.95,194.78 L223.36,194.77 L222.77,194.79 L222.19,194.83 L221.6,194.9 L221.01,194.99 L220.42,195.11 L219.83,195.25 L219.25,195.41 L218.66,195.59 L218.07,195.78 L217.48,195.98 L216.89,196.2 L216.31,196.42 L215.72,196.65 L215.13,196.89 L214.54,197.13 L213.95,197.38 L213.37,197.63 L212.78,197.9 L212.19,198.19 L211.6,198.52 L211.01,198.87 L210.43,199.24 L209.84,199.64 L209.25,200.07 L208.66,200.53 L208.08,201.01 L207.49,201.57 L206.9,202.23 L206.31,202.95 L205.72,203.71 L205.14,204.53 L204.55,205.38 L203.96,206.26 L203.37,207.18 L202.78,208.12 L202.2,209.08 L201.61,210.05 L201.02,211.02 L200.43,212.01 L199.84,213 L199.26,214.01 L198.67,215.04 L198.08,216.11 L197.49,217.2 L196.9,218.35 L196.32,219.53 L195.73,220.78 L195.14,222.08 L194.55,223.44 L193.97,224.89 L193.38,226.48 L192.79,228.24 L192.2,230.14 L191.61,232.14 L191.03,234.22 L190.44,236.35 L189.85,238.5 L189.26,240.65 L188.67,242.76 L188.09,244.81 L187.5,246.78 L186.91,248.74 L186.32,250.83 L185.73,252.96 L185.15,255.04 L184.56,256.98 L183.97,258.67 L183.38,260.04 L182.79,261 L182.21,261.79 L181.62,262.49 L181.03,263.1 L180.44,263.64 L179.86,264.13 L179.27,264.58 L178.68,265 L178.09,265.39 L177.5,265.75 L176.92,266.07 L176.33,266.38 L175.74,266.66 L175.15,266.94 L174.56,267.21 L173.98,267.49 L173.39,267.77 L172.8,268.06Z" fill="#e8702a" fill-opacity="0.32" stroke="#e8702a" stroke-opacity="0.28800000000000003" stroke-width="0.9"/>
<path d="M172.8,257.94 L173.39,257.64 L173.98,257.36 L174.56,257.08 L175.15,256.81 L175.74,256.53 L176.33,256.25 L176.92,255.94 L177.5,255.62 L178.09,255.26 L178.68,254.87 L179.27,254.45 L179.86,254 L180.44,253.51 L181.03,252.97 L181.62,252.36 L182.21,251.66 L182.79,250.87 L183.38,249.91 L183.97,248.54 L184.56,246.85 L185.15,244.91 L185.73,242.83 L186.32,240.7 L186.91,238.61 L187.5,236.65 L188.09,234.68 L188.67,232.63 L189.26,230.52 L189.85,228.37 L190.44,226.22 L191.03,224.09 L191.61,222.01 L192.2,220.01 L192.79,218.11 L193.38,216.35 L193.97,214.76 L194.55,213.31 L195.14,211.95 L195.73,210.65 L196.32,209.4 L196.9,208.22 L197.49,207.07 L198.08,205.98 L198.67,204.91 L199.26,203.88 L199.84,202.87 L200.43,201.88 L201.02,200.89 L201.61,199.92 L202.2,198.95 L202.78,197.99 L203.37,197.05 L203.96,196.13 L204.55,195.25 L205.14,194.4 L205.72,193.58 L206.31,192.82 L206.9,192.1 L207.49,191.44 L208.08,190.84 L208.66,190.3 L209.25,189.79 L209.84,189.32 L210.43,188.88 L211.01,188.45 L211.6,188.03 L212.19,187.62 L212.78,187.2 L213.37,186.76 L213.68,186.52 L213.95,186.74 L214.54,187.23 L215.13,187.72 L215.72,188.21 L216.31,188.7 L216.89,189.19 L217.48,189.69 L218.07,190.17 L218.66,190.66 L219.25,191.13 L219.83,191.6 L220.42,192.05 L221.01,192.49 L221.6,192.92 L222.19,193.35 L222.77,193.79 L223.36,194.22 L223.95,194.65 L224.54,195.08 L225.12,195.51 L225.71,195.93 L226.3,196.34 L226.89,196.75 L227.48,197.15 L228.06,197.54 L228.65,197.92 L229.24,198.29 L229.83,198.64 L230.42,198.98 L231,199.3 L231.59,199.61 L232.18,199.89 L232.77,200.16 L233.36,200.41 L233.94,200.65 L234.53,200.87 L235.12,201.09 L235.71,201.29 L236.3,201.49 L236.88,201.67 L237.47,201.86 L238.06,202.04 L238.65,202.21 L239.23,202.39 L239.82,202.56 L240.41,202.74 L241,202.92 L241.59,203.11 L242.17,203.3 L242.76,203.5 L243.35,203.7 L243.94,203.91 L244.53,204.12 L245.11,204.33 L245.7,204.54 L246.29,204.75 L246.88,204.96 L247.47,205.17 L248.05,205.38 L248.64,205.6 L248.72,205.62 L249.23,204.78 L249.82,203.8 L250.41,202.81 L250.99,201.82 L251.58,200.84 L252.17,199.86 L252.76,198.88 L253.34,197.92 L253.93,196.96 L254.52,196.02 L255.11,195.1 L255.7,194.19 L256.28,193.29 L256.87,192.4 L257.46,191.51 L258.05,190.63 L258.64,189.76 L259.22,188.88 L259.81,187.99 L260.4,187.11 L260.4,201.13 L259.81,201.96 L259.22,202.8 L258.64,203.63 L258.05,204.46 L257.46,205.29 L256.87,206.12 L256.28,206.97 L255.7,207.82 L255.11,208.68 L254.52,209.55 L253.93,210.44 L253.34,211.35 L252.76,212.26 L252.17,213.19 L251.58,214.12 L250.99,215.06 L250.41,216 L249.82,216.93 L249.23,217.87 L248.72,218.67 L248.64,218.64 L248.05,218.38 L247.47,218.12 L246.88,217.86 L246.29,217.59 L245.7,217.33 L245.11,217.07 L244.53,216.81 L243.94,216.56 L243.35,216.3 L242.76,216.05 L242.17,215.8 L241.59,215.56 L241,215.33 L240.41,215.1 L239.82,214.87 L239.23,214.65 L238.65,214.42 L238.06,214.2 L237.47,213.97 L236.88,213.74 L236.3,213.5 L235.71,213.25 L235.12,213 L234.53,212.74 L233.94,212.47 L233.36,212.18 L232.77,211.88 L232.18,211.56 L231.59,211.23 L231,210.87 L230.42,210.5 L229.83,210.11 L229.24,209.71 L228.65,209.3 L228.06,208.87 L227.48,208.43 L226.89,207.98 L226.3,207.53 L225.71,207.06 L225.12,206.59 L224.54,206.12 L223.95,205.64 L223.36,205.16 L222.77,204.67 L222.19,204.19 L221.6,203.71 L221.01,203.23 L220.42,202.74 L219.83,202.24 L219.25,201.72 L218.66,201.2 L218.07,200.67 L217.48,200.13 L216.89,199.59 L216.31,199.05 L215.72,198.51 L215.13,197.97 L214.54,197.43 L213.95,196.9 L213.68,196.65 L213.37,196.89 L212.78,197.33 L212.19,197.75 L211.6,198.16 L211.01,198.58 L210.43,199.01 L209.84,199.45 L209.25,199.92 L208.66,200.43 L208.08,200.97 L207.49,201.57 L206.9,202.23 L206.31,202.95 L205.72,203.71 L205.14,204.53 L204.55,205.38 L203.96,206.26 L203.37,207.18 L202.78,208.12 L202.2,209.08 L201.61,210.05 L201.02,211.02 L200.43,212.01 L199.84,213 L199.26,214.01 L198.67,215.04 L198.08,216.11 L197.49,217.2 L196.9,218.35 L196.32,219.53 L195.73,220.78 L195.14,222.08 L194.55,223.44 L193.97,224.89 L193.38,226.48 L192.79,228.24 L192.2,230.14 L191.61,232.14 L191.03,234.22 L190.44,236.35 L189.85,238.5 L189.26,240.65 L188.67,242.76 L188.09,244.81 L187.5,246.78 L186.91,248.74 L186.32,250.83 L185.73,252.96 L185.15,255.04 L184.56,256.98 L183.97,258.67 L183.38,260.04 L182.79,261 L182.21,261.79 L181.62,262.49 L181.03,263.1 L180.44,263.64 L179.86,264.13 L179.27,264.58 L178.68,265 L178.09,265.39 L177.5,265.75 L176.92,266.07 L176.33,266.38 L175.74,266.66 L175.15,266.94 L174.56,267.21 L173.98,267.49 L173.39,267.77 L172.8,268.06Z" fill="#8c0f9c" fill-opacity="0.37" stroke="#8c0f9c" stroke-opacity="0.333" stroke-width="0.9"/>
<path d="M213.68,191.58 L214.47,191.14 L215.26,190.7 L216.06,190.27 L216.85,189.85 L217.64,189.44 L218.43,189.06 L219.22,188.71 L220.01,188.38 L220.81,188.09 L221.6,187.85 L222.39,187.64 L223.18,187.49 L223.97,187.39 L224.77,187.3 L225.56,187.21 L226.35,187.14 L227.14,187.07 L227.93,187 L228.73,186.94 L229.52,186.88 L230.31,186.83 L231.1,186.78 L231.89,186.74 L232.68,186.7 L233.48,186.66 L234.27,186.62 L235.06,186.59 L235.85,186.56 L236.64,186.53 L237.44,186.51 L238.23,186.48 L239.02,186.45 L239.81,186.43 L240.6,186.41 L241.4,186.39 L242.19,186.37 L242.98,186.35 L243.77,186.33 L244.56,186.31 L245.35,186.29 L246.15,186.28 L246.94,186.26 L247.73,186.25 L248.52,186.23 L249.31,186.22 L250.11,186.2 L250.9,186.19 L251.69,186.17 L252.48,186.16 L253.27,186.15 L254.07,186.13 L254.86,186.12 L255.65,186.11 L256.44,186.09 L257.23,186.08 L258.02,186.06 L258.82,186.05 L259.61,186.03 L260.4,186.01" fill="none" stroke="#e8702a" stroke-width="1.6" stroke-dasharray="5.5,2.4" stroke-linecap="butt" stroke-linejoin="round"/>
<path d="M172.8,263 L173.39,262.7 L173.98,262.42 L174.56,262.15 L175.15,261.87 L175.74,261.6 L176.33,261.31 L176.92,261.01 L177.5,260.68 L178.09,260.32 L178.68,259.93 L179.27,259.52 L179.86,259.07 L180.44,258.58 L181.03,258.03 L181.62,257.42 L182.21,256.73 L182.79,255.94 L183.38,254.97 L183.97,253.61 L184.56,251.91 L185.15,249.97 L185.73,247.89 L186.32,245.76 L186.91,243.67 L187.5,241.71 L188.09,239.75 L188.67,237.7 L189.26,235.58 L189.85,233.43 L190.44,231.28 L191.03,229.15 L191.61,227.07 L192.2,225.07 L192.79,223.18 L193.38,221.42 L193.97,219.82 L194.55,218.38 L195.14,217.01 L195.73,215.71 L196.32,214.47 L196.9,213.28 L197.49,212.14 L198.08,211.04 L198.67,209.98 L199.26,208.94 L199.84,207.93 L200.43,206.94 L201.02,205.96 L201.61,204.98 L202.2,204.01 L202.78,203.05 L203.37,202.11 L203.96,201.2 L204.55,200.31 L205.14,199.46 L205.72,198.65 L206.31,197.88 L206.9,197.17 L207.49,196.51 L208.08,195.91 L208.66,195.36 L209.25,194.86 L209.84,194.39 L210.43,193.94 L211.01,193.52 L211.6,193.1 L212.19,192.68 L212.78,192.26 L213.37,191.82 L213.68,191.58 L213.95,191.82 L214.54,192.33 L215.13,192.84 L215.72,193.36 L216.31,193.88 L216.89,194.39 L217.48,194.91 L218.07,195.42 L218.66,195.93 L219.25,196.43 L219.83,196.92 L220.42,197.4 L221.01,197.86 L221.6,198.32 L222.19,198.77 L222.77,199.23 L223.36,199.69 L223.95,200.15 L224.54,200.6 L225.12,201.05 L225.71,201.5 L226.3,201.93 L226.89,202.37 L227.48,202.79 L228.06,203.21 L228.65,203.61 L229.24,204 L229.83,204.38 L230.42,204.74 L231,205.09 L231.59,205.42 L232.18,205.73 L232.77,206.02 L233.36,206.3 L233.94,206.56 L234.53,206.81 L235.12,207.04 L235.71,207.27 L236.3,207.49 L236.88,207.71 L237.47,207.91 L238.06,208.12 L238.65,208.32 L239.23,208.52 L239.82,208.72 L240.41,208.92 L241,209.12 L241.59,209.33 L242.17,209.55 L242.76,209.77 L243.35,210 L243.94,210.23 L244.53,210.47 L245.11,210.7 L245.7,210.94 L246.29,211.17 L246.88,211.41 L247.47,211.64 L248.05,211.88 L248.64,212.12 L248.72,212.15 L249.23,211.32 L249.82,210.36 L250.41,209.4 L250.99,208.44 L251.58,207.48 L252.17,206.52 L252.76,205.57 L253.34,204.63 L253.93,203.7 L254.52,202.79 L255.11,201.89 L255.7,201 L256.28,200.13 L256.87,199.26 L257.46,198.4 L258.05,197.55 L258.64,196.69 L259.22,195.84 L259.81,194.98 L260.4,194.12" fill="none" stroke="#8c0f9c" stroke-width="1.6" stroke-dasharray="5.5,2.4" stroke-linecap="butt" stroke-linejoin="round"/>
<line x1="168.6" y1="174.8" x2="168.6" y2="274.8" stroke="#1a1a1a" stroke-width="1"/>
<line x1="168.1" y1="274.3" x2="265.4" y2="274.3" stroke="#1a1a1a" stroke-width="1"/>
<line x1="165.1" y1="263" x2="168.6" y2="263" stroke="#1a1a1a" stroke-width="1"/>
<text x="162.3" y="266.9" font-size="10.42" text-anchor="end" fill="#1a1a1a" textLength="5.92" lengthAdjust="spacingAndGlyphs">0</text>
<line x1="165.1" y1="232.61" x2="168.6" y2="232.61" stroke="#1a1a1a" stroke-width="1"/>
<text x="162.3" y="236.51" font-size="10.42" text-anchor="end" fill="#1a1a1a" textLength="5.92" lengthAdjust="spacingAndGlyphs">3</text>
<line x1="165.1" y1="202.22" x2="168.6" y2="202.22" stroke="#1a1a1a" stroke-width="1"/>
<text x="162.3" y="206.12" font-size="10.42" text-anchor="end" fill="#1a1a1a" textLength="5.92" lengthAdjust="spacingAndGlyphs">6</text>
<line x1="172.8" y1="274.3" x2="172.8" y2="277.8" stroke="#1a1a1a" stroke-width="1"/>
<text x="172.8" y="288.9" font-size="10.42" text-anchor="middle" fill="#1a1a1a" textLength="5.92" lengthAdjust="spacingAndGlyphs">0</text>
<line x1="231.2" y1="274.3" x2="231.2" y2="277.8" stroke="#1a1a1a" stroke-width="1"/>
<text x="231.2" y="288.9" font-size="10.42" text-anchor="middle" fill="#1a1a1a" textLength="5.92" lengthAdjust="spacingAndGlyphs">2</text>
<rect x="329.8" y="175" width="36.1" height="99.2" fill="#e5f2fc"/>
<path d="M289,254.89 L289.59,254.61 L290.19,254.34 L290.78,254.09 L291.37,253.84 L291.96,253.59 L292.56,253.35 L293.15,253.11 L293.74,252.87 L294.34,252.63 L294.93,252.38 L295.52,252.12 L296.12,251.86 L296.71,251.58 L297.3,251.29 L297.89,250.99 L298.49,250.66 L299.08,250.32 L299.67,249.95 L300.27,249.57 L300.86,249.15 L301.45,248.69 L302.04,248.17 L302.64,247.6 L303.23,246.97 L303.82,246.29 L304.42,245.56 L305.01,244.78 L305.6,243.96 L306.2,243.09 L306.79,242.18 L307.38,241.19 L307.97,240.06 L308.57,238.79 L309.16,237.41 L309.75,235.91 L310.35,234.34 L310.94,232.69 L311.53,231 L312.13,229.27 L312.72,227.52 L313.31,225.77 L313.9,224.03 L314.5,222.33 L315.09,220.69 L315.68,219.1 L316.28,217.5 L316.87,215.87 L317.46,214.22 L318.05,212.56 L318.65,210.91 L319.24,209.28 L319.83,207.67 L320.43,206.11 L321.02,204.59 L321.61,203.14 L322.21,201.76 L322.8,200.39 L323.39,199 L323.98,197.63 L324.58,196.27 L325.17,194.94 L325.76,193.66 L326.36,192.43 L326.95,191.27 L327.54,190.18 L328.13,189.19 L328.73,188.3 L329.32,187.53 L329.91,186.82 L330.51,186.13 L331.1,185.45 L331.69,184.79 L332.29,184.17 L332.88,183.59 L333.47,183.05 L334.06,182.56 L334.66,182.14 L335.25,181.78 L335.84,181.5 L336.44,181.3 L337.03,181.18 L337.62,181.08 L338.22,180.98 L338.81,180.88 L339.4,180.79 L339.99,180.71 L340.59,180.63 L341.18,180.56 L341.77,180.49 L342.37,180.43 L342.96,180.37 L343.55,180.32 L344.14,180.27 L344.74,180.22 L345.33,180.18 L345.92,180.15 L346.52,180.12 L347.11,180.09 L347.7,180.07 L348.3,180.05 L348.89,180.03 L349.48,180.02 L350.07,180 L350.67,179.99 L351.26,179.98 L351.85,179.97 L352.45,179.96 L353.04,179.95 L353.63,179.94 L354.22,179.93 L354.82,179.92 L355.41,179.91 L356,179.91 L356.6,179.9 L357.19,179.89 L357.78,179.89 L358.38,179.88 L358.97,179.88 L359.56,179.87 L360.15,179.87 L360.75,179.87 L361.34,179.86 L361.93,179.86 L362.53,179.86 L363.12,179.86 L363.71,179.86 L364.31,179.87 L364.9,179.87 L365.49,179.87 L366.08,179.88 L366.68,179.88 L367.27,179.89 L367.86,179.9 L368.46,179.9 L369.05,179.91 L369.64,179.92 L370.23,179.93 L370.83,179.94 L371.42,179.94 L372.01,179.95 L372.61,179.96 L373.2,179.97 L373.79,179.98 L374.39,179.99 L374.98,180 L375.57,180 L376.16,180.01 L376.76,180.02 L377.35,180.03 L377.35,194.64 L376.76,194.63 L376.16,194.63 L375.57,194.62 L374.98,194.61 L374.39,194.6 L373.79,194.6 L373.2,194.59 L372.61,194.58 L372.01,194.57 L371.42,194.56 L370.83,194.55 L370.23,194.54 L369.64,194.54 L369.05,194.53 L368.46,194.52 L367.86,194.51 L367.27,194.51 L366.68,194.5 L366.08,194.5 L365.49,194.49 L364.9,194.49 L364.31,194.48 L363.71,194.48 L363.12,194.48 L362.53,194.48 L361.93,194.48 L361.34,194.48 L360.75,194.48 L360.15,194.49 L359.56,194.49 L358.97,194.49 L358.38,194.5 L357.78,194.5 L357.19,194.51 L356.6,194.51 L356,194.52 L355.41,194.53 L354.82,194.54 L354.22,194.55 L353.63,194.56 L353.04,194.57 L352.45,194.58 L351.85,194.59 L351.26,194.6 L350.67,194.61 L350.07,194.62 L349.48,194.63 L348.89,194.65 L348.3,194.66 L347.7,194.68 L347.11,194.7 L346.52,194.73 L345.92,194.76 L345.33,194.8 L344.74,194.84 L344.14,194.88 L343.55,194.93 L342.96,194.99 L342.37,195.04 L341.77,195.11 L341.18,195.17 L340.59,195.25 L339.99,195.33 L339.4,195.41 L338.81,195.5 L338.22,195.59 L337.62,195.69 L337.03,195.8 L336.44,195.92 L335.84,196.12 L335.25,196.4 L334.66,196.76 L334.06,197.18 L333.47,197.66 L332.88,198.2 L332.29,198.79 L331.69,199.41 L331.1,200.06 L330.51,200.74 L329.91,201.44 L329.32,202.14 L328.73,202.92 L328.13,203.81 L327.54,204.8 L326.95,205.88 L326.36,207.05 L325.76,208.28 L325.17,209.56 L324.58,210.89 L323.98,212.24 L323.39,213.62 L322.8,215 L322.21,216.38 L321.61,217.76 L321.02,219.21 L320.43,220.72 L319.83,222.29 L319.24,223.89 L318.65,225.53 L318.05,227.18 L317.46,228.83 L316.87,230.48 L316.28,232.11 L315.68,233.71 L315.09,235.3 L314.5,236.95 L313.9,238.65 L313.31,240.38 L312.72,242.13 L312.13,243.88 L311.53,245.61 L310.94,247.31 L310.35,248.95 L309.75,250.53 L309.16,252.02 L308.57,253.41 L307.97,254.68 L307.38,255.81 L306.79,256.79 L306.2,257.71 L305.6,258.58 L305.01,259.4 L304.42,260.18 L303.82,260.91 L303.23,261.59 L302.64,262.21 L302.04,262.79 L301.45,263.31 L300.86,263.77 L300.27,264.18 L299.67,264.57 L299.08,264.94 L298.49,265.28 L297.89,265.6 L297.3,265.91 L296.71,266.2 L296.12,266.47 L295.52,266.74 L294.93,266.99 L294.34,267.24 L293.74,267.49 L293.15,267.73 L292.56,267.97 L291.96,268.21 L291.37,268.45 L290.78,268.7 L290.19,268.96 L289.59,269.23 L289,269.51Z" fill="#e8702a" fill-opacity="0.32" stroke="#e8702a" stroke-opacity="0.28800000000000003" stroke-width="0.9"/>
<path d="M289,254.89 L289.59,254.61 L290.19,254.34 L290.78,254.09 L291.37,253.84 L291.96,253.59 L292.56,253.35 L293.15,253.11 L293.74,252.87 L294.34,252.63 L294.93,252.38 L295.52,252.12 L296.12,251.86 L296.71,251.58 L297.3,251.29 L297.89,250.99 L298.49,250.66 L299.08,250.32 L299.67,249.95 L300.27,249.57 L300.86,249.15 L301.45,248.69 L302.04,248.17 L302.64,247.6 L303.23,246.97 L303.82,246.29 L304.42,245.56 L305.01,244.78 L305.6,243.96 L306.2,243.09 L306.79,242.18 L307.38,241.19 L307.97,240.06 L308.57,238.79 L309.16,237.41 L309.75,235.91 L310.35,234.34 L310.94,232.69 L311.53,231 L312.13,229.27 L312.72,227.52 L313.31,225.77 L313.9,224.03 L314.5,222.33 L315.09,220.69 L315.68,219.1 L316.28,217.5 L316.87,215.87 L317.46,214.22 L318.05,212.56 L318.65,210.91 L319.24,209.28 L319.83,207.67 L320.43,206.11 L321.02,204.59 L321.61,203.14 L322.21,201.76 L322.8,200.39 L323.39,199 L323.98,197.63 L324.58,196.27 L325.17,194.94 L325.76,193.66 L326.36,192.43 L326.95,191.27 L327.54,190.18 L328.13,189.19 L328.73,188.3 L329.32,187.53 L329.91,186.82 L330.51,186.13 L331.1,185.45 L331.69,184.79 L332.29,184.17 L332.88,183.59 L333.47,183.05 L334.06,182.56 L334.66,182.14 L335.25,181.78 L335.84,181.5 L336.44,181.3 L337.03,181.18 L337.62,181.08 L338.22,180.98 L338.81,180.88 L339.4,180.79 L339.99,180.71 L340.59,180.63 L341.18,180.56 L341.77,180.49 L342.37,180.43 L342.96,180.37 L343.55,180.32 L344.14,180.27 L344.74,180.22 L345.33,180.18 L345.92,180.15 L346.52,180.12 L347.11,180.09 L347.7,180.07 L348.3,180.05 L348.89,180.03 L349.48,180.02 L350.07,180 L350.67,179.99 L351.26,179.98 L351.85,179.97 L352.45,179.96 L353.04,179.95 L353.63,179.94 L354.22,179.93 L354.82,179.92 L355.41,179.91 L356,179.91 L356.6,179.9 L357.19,179.89 L357.78,179.89 L358.38,179.88 L358.97,179.88 L359.56,179.87 L360.15,179.87 L360.75,179.87 L361.34,179.86 L361.93,179.86 L362.53,179.86 L363.12,179.86 L363.71,179.86 L364.31,179.87 L364.9,179.87 L365.49,179.87 L366.08,179.88 L366.68,179.88 L367.27,179.89 L367.86,179.9 L368.46,179.9 L369.05,179.91 L369.64,179.92 L370.23,179.93 L370.83,179.94 L371.42,179.94 L372.01,179.95 L372.61,179.96 L373.2,179.97 L373.79,179.98 L374.39,179.99 L374.98,180 L375.57,180 L376.16,180.01 L376.76,180.02 L377.35,180.03 L377.35,194.64 L376.76,194.63 L376.16,194.63 L375.57,194.62 L374.98,194.61 L374.39,194.6 L373.79,194.6 L373.2,194.59 L372.61,194.58 L372.01,194.57 L371.42,194.56 L370.83,194.55 L370.23,194.54 L369.64,194.54 L369.05,194.53 L368.46,194.52 L367.86,194.51 L367.27,194.51 L366.68,194.5 L366.08,194.5 L365.49,194.49 L364.9,194.49 L364.31,194.48 L363.71,194.48 L363.12,194.48 L362.53,194.48 L361.93,194.48 L361.34,194.48 L360.75,194.48 L360.15,194.49 L359.56,194.49 L358.97,194.49 L358.38,194.5 L357.78,194.5 L357.19,194.51 L356.6,194.51 L356,194.52 L355.41,194.53 L354.82,194.54 L354.22,194.55 L353.63,194.56 L353.04,194.57 L352.45,194.58 L351.85,194.59 L351.26,194.6 L350.67,194.61 L350.07,194.62 L349.48,194.63 L348.89,194.65 L348.3,194.66 L347.7,194.68 L347.11,194.7 L346.52,194.73 L345.92,194.76 L345.33,194.8 L344.74,194.84 L344.14,194.88 L343.55,194.93 L342.96,194.99 L342.37,195.04 L341.77,195.11 L341.18,195.17 L340.59,195.25 L339.99,195.33 L339.4,195.41 L338.81,195.5 L338.22,195.59 L337.62,195.69 L337.03,195.8 L336.44,195.92 L335.84,196.12 L335.25,196.4 L334.66,196.76 L334.06,197.18 L333.47,197.66 L332.88,198.2 L332.29,198.79 L331.69,199.41 L331.1,200.06 L330.51,200.74 L329.91,201.44 L329.32,202.14 L328.73,202.92 L328.13,203.81 L327.54,204.8 L326.95,205.88 L326.36,207.05 L325.76,208.28 L325.17,209.56 L324.58,210.89 L323.98,212.24 L323.39,213.62 L322.8,215 L322.21,216.38 L321.61,217.76 L321.02,219.21 L320.43,220.72 L319.83,222.29 L319.24,223.89 L318.65,225.53 L318.05,227.18 L317.46,228.83 L316.87,230.48 L316.28,232.11 L315.68,233.71 L315.09,235.3 L314.5,236.95 L313.9,238.65 L313.31,240.38 L312.72,242.13 L312.13,243.88 L311.53,245.61 L310.94,247.31 L310.35,248.95 L309.75,250.53 L309.16,252.02 L308.57,253.41 L307.97,254.68 L307.38,255.81 L306.79,256.79 L306.2,257.71 L305.6,258.58 L305.01,259.4 L304.42,260.18 L303.82,260.91 L303.23,261.59 L302.64,262.21 L302.04,262.79 L301.45,263.31 L300.86,263.77 L300.27,264.18 L299.67,264.57 L299.08,264.94 L298.49,265.28 L297.89,265.6 L297.3,265.91 L296.71,266.2 L296.12,266.47 L295.52,266.74 L294.93,266.99 L294.34,267.24 L293.74,267.49 L293.15,267.73 L292.56,267.97 L291.96,268.21 L291.37,268.45 L290.78,268.7 L290.19,268.96 L289.59,269.23 L289,269.51Z" fill="#8c0f9c" fill-opacity="0.37" stroke="#8c0f9c" stroke-opacity="0.333" stroke-width="0.9"/>
<path d="M289,262.2 L289.59,261.92 L290.19,261.65 L290.78,261.4 L291.37,261.14 L291.96,260.9 L292.56,260.66 L293.15,260.42 L293.74,260.18 L294.34,259.93 L294.93,259.69 L295.52,259.43 L296.12,259.16 L296.71,258.89 L297.3,258.6 L297.89,258.29 L298.49,257.97 L299.08,257.63 L299.67,257.26 L300.27,256.87 L300.86,256.46 L301.45,256 L302.04,255.48 L302.64,254.91 L303.23,254.28 L303.82,253.6 L304.42,252.87 L305.01,252.09 L305.6,251.27 L306.2,250.4 L306.79,249.49 L307.38,248.5 L307.97,247.37 L308.57,246.1 L309.16,244.71 L309.75,243.22 L310.35,241.65 L310.94,240 L311.53,238.3 L312.13,236.57 L312.72,234.82 L313.31,233.08 L313.9,231.34 L314.5,229.64 L315.09,227.99 L315.68,226.41 L316.28,224.81 L316.87,223.18 L317.46,221.53 L318.05,219.87 L318.65,218.22 L319.24,216.59 L319.83,214.98 L320.43,213.41 L321.02,211.9 L321.61,210.45 L322.21,209.07 L322.8,207.7 L323.39,206.31 L323.98,204.94 L324.58,203.58 L325.17,202.25 L325.76,200.97 L326.36,199.74 L326.95,198.58 L327.54,197.49 L328.13,196.5 L328.73,195.61 L329.32,194.83 L329.91,194.13 L330.51,193.43 L331.1,192.75 L331.69,192.1 L332.29,191.48 L332.88,190.89 L333.47,190.36 L334.06,189.87 L334.66,189.45 L335.25,189.09 L335.84,188.81 L336.44,188.61 L337.03,188.49 L337.62,188.39 L338.22,188.29 L338.81,188.19 L339.4,188.1 L339.99,188.02 L340.59,187.94 L341.18,187.87 L341.77,187.8 L342.37,187.74 L342.96,187.68 L343.55,187.62 L344.14,187.58 L344.74,187.53 L345.33,187.49 L345.92,187.46 L346.52,187.42 L347.11,187.4 L347.7,187.37 L348.3,187.35 L348.89,187.34 L349.48,187.32 L350.07,187.31 L350.67,187.3 L351.26,187.29 L351.85,187.28 L352.45,187.27 L353.04,187.26 L353.63,187.25 L354.22,187.24 L354.82,187.23 L355.41,187.22 L356,187.21 L356.6,187.21 L357.19,187.2 L357.78,187.19 L358.38,187.19 L358.97,187.18 L359.56,187.18 L360.15,187.18 L360.75,187.17 L361.34,187.17 L361.93,187.17 L362.53,187.17 L363.12,187.17 L363.71,187.17 L364.31,187.18 L364.9,187.18 L365.49,187.18 L366.08,187.19 L366.68,187.19 L367.27,187.2 L367.86,187.2 L368.46,187.21 L369.05,187.22 L369.64,187.23 L370.23,187.24 L370.83,187.24 L371.42,187.25 L372.01,187.26 L372.61,187.27 L373.2,187.28 L373.79,187.29 L374.39,187.3 L374.98,187.3 L375.57,187.31 L376.16,187.32 L376.76,187.33 L377.35,187.33" fill="none" stroke="#8c0f9c" stroke-width="1.6" stroke-dasharray="5.5,2.4" stroke-linecap="butt" stroke-linejoin="round"/>
<line x1="284.8" y1="174.5" x2="284.8" y2="274.7" stroke="#1a1a1a" stroke-width="1"/>
<line x1="284.3" y1="274.2" x2="381.9" y2="274.2" stroke="#1a1a1a" stroke-width="1"/>
<line x1="281.3" y1="262.2" x2="284.8" y2="262.2" stroke="#1a1a1a" stroke-width="1"/>
<text x="278.5" y="266.1" font-size="10.42" text-anchor="end" fill="#1a1a1a" textLength="5.92" lengthAdjust="spacingAndGlyphs">0</text>
<line x1="281.3" y1="221.6" x2="284.8" y2="221.6" stroke="#1a1a1a" stroke-width="1"/>
<text x="278.5" y="225.5" font-size="10.42" text-anchor="end" fill="#1a1a1a" textLength="5.92" lengthAdjust="spacingAndGlyphs">5</text>
<line x1="281.3" y1="181" x2="284.8" y2="181" stroke="#1a1a1a" stroke-width="1"/>
<text x="278.5" y="184.9" font-size="10.42" text-anchor="end" fill="#1a1a1a" textLength="11.83" lengthAdjust="spacingAndGlyphs">10</text>
<line x1="289" y1="274.2" x2="289" y2="277.7" stroke="#1a1a1a" stroke-width="1"/>
<text x="289" y="288.8" font-size="10.42" text-anchor="middle" fill="#1a1a1a" textLength="5.92" lengthAdjust="spacingAndGlyphs">0</text>
<line x1="347.9" y1="274.2" x2="347.9" y2="277.7" stroke="#1a1a1a" stroke-width="1"/>
<text x="347.9" y="288.8" font-size="10.42" text-anchor="middle" fill="#1a1a1a" textLength="5.92" lengthAdjust="spacingAndGlyphs">2</text>
<path d="M468.29,176.37 L470.06,177.24 L471.82,178.07 L473.59,178.87 L475.36,179.63 L477.12,180.35 L478.89,181.05 L480.66,181.71 L482.42,182.34 L484.19,182.95 L485.95,183.52 L487.72,184.07 L489.49,184.6 L491.25,185.1 L493.02,185.59 L494.79,186.04 L496.55,186.48 L498.32,186.9 L500.09,187.3 L501.85,187.69 L503.62,188.05 L505.39,188.4 L507.15,188.73 L508.92,189.05 L510.69,189.36 L512.45,189.65 L514.22,189.92 L515.98,190.19 L517.75,190.44 L519.52,190.68 L521.28,190.92 L523.05,191.14 L524.82,191.35 L526.58,191.55 L528.35,191.74 L530.12,191.93 L531.88,192.1 L533.65,192.27 L535.42,192.43 L537.18,192.58 L538.95,192.73 L540.72,192.87 L542.48,193 L544.25,193.13 L546.01,193.25 L547.78,193.37 L549.55,193.48 L551.31,193.59 L553.08,193.69 L554.85,193.78 L556.61,193.88 L558.38,193.96 L560.15,194.05 L561.91,194.13 L563.68,194.21 L565.45,194.28 L567.21,194.35 L568.98,194.42 L570.75,194.48 L572.51,194.54 L574.28,194.6 L576.04,194.66 L577.81,194.71 L579.58,194.76 L581.34,194.81 L583.11,194.86 L584.88,194.9 L586.64,194.95 L588.41,194.99 L590.18,195.03 L591.94,195.06 L593.71,195.1 L595.48,195.13 L597.24,195.16 L599.01,195.19 L600.78,195.22 L602.54,195.25 L604.31,195.28 L606.07,195.31 L607.84,195.33 L609.61,195.35 L611.37,195.38 L613.14,195.4 L614.91,195.42 L616.67,195.44 L618.44,195.46 L620.21,195.47 L621.97,195.49 L623.74,195.51 L625.51,195.52 L627.27,195.54 L629.04,195.55 L630.81,195.56 L632.57,195.58 L634.34,195.59 L636.1,195.6 L637.87,195.61 L639.64,195.62 L641.4,195.63 L643.17,195.64 L644.94,195.65 L646.7,195.66 L648.47,195.67 L650.24,195.68 L652,195.69 L653.77,195.69 L655.54,195.7 L657.3,195.71 L659.07,195.72 L660.84,195.72 L662.6,195.73 L664.37,195.73 L666.13,195.74 L667.9,195.74 L669.67,195.75 L671.43,195.75 L673.2,195.76 L674.97,195.76 L676.73,195.77 L678.5,195.77 L678.5,198.86 L676.73,198.86 L674.97,198.85 L673.2,198.85 L671.43,198.84 L669.67,198.84 L667.9,198.83 L666.13,198.83 L664.37,198.82 L662.6,198.82 L660.84,198.81 L659.07,198.81 L657.3,198.8 L655.54,198.79 L653.77,198.79 L652,198.78 L650.24,198.77 L648.47,198.76 L646.7,198.75 L644.94,198.74 L643.17,198.74 L641.4,198.73 L639.64,198.72 L637.87,198.7 L636.1,198.69 L634.34,198.68 L632.57,198.67 L630.81,198.66 L629.04,198.64 L627.27,198.63 L625.51,198.61 L623.74,198.6 L621.97,198.58 L620.21,198.56 L618.44,198.55 L616.67,198.53 L614.91,198.51 L613.14,198.49 L611.37,198.47 L609.61,198.44 L607.84,198.42 L606.07,198.4 L604.31,198.37 L602.54,198.34 L600.78,198.32 L599.01,198.29 L597.24,198.25 L595.48,198.22 L593.71,198.19 L591.94,198.15 L590.18,198.12 L588.41,198.08 L586.64,198.04 L584.88,197.99 L583.11,197.95 L581.34,197.9 L579.58,197.85 L577.81,197.8 L576.04,197.75 L574.28,197.69 L572.51,197.64 L570.75,197.57 L568.98,197.51 L567.21,197.44 L565.45,197.37 L563.68,197.3 L561.91,197.22 L560.15,197.14 L558.38,197.06 L556.61,196.97 L554.85,196.87 L553.08,196.78 L551.31,196.68 L549.55,196.57 L547.78,196.46 L546.01,196.34 L544.25,196.22 L542.48,196.09 L540.72,195.96 L538.95,195.82 L537.18,195.67 L535.42,195.52 L533.65,195.36 L531.88,195.19 L530.12,195.02 L528.35,194.83 L526.58,194.64 L524.82,194.44 L523.05,194.23 L521.28,194.01 L519.52,193.78 L517.75,193.53 L515.98,193.28 L514.22,193.01 L512.45,192.74 L510.69,192.45 L508.92,192.14 L507.15,191.82 L505.39,191.49 L503.62,191.14 L501.85,190.78 L500.09,190.39 L498.32,189.99 L496.55,189.57 L494.79,189.14 L493.02,188.68 L491.25,188.2 L489.49,187.69 L487.72,187.17 L485.95,186.61 L484.19,186.04 L482.42,185.43 L480.66,184.8 L478.89,184.14 L477.12,183.44 L475.36,182.72 L473.59,181.96 L471.82,181.16 L470.06,180.33 L468.29,179.46Z" fill="#e8702a" fill-opacity="0.35"/>
<path d="M468.29,177.91 L470.06,178.79 L471.82,179.62 L473.59,180.41 L475.36,181.17 L477.12,181.9 L478.89,182.59 L480.66,183.25 L482.42,183.89 L484.19,184.49 L485.95,185.07 L487.72,185.62 L489.49,186.15 L491.25,186.65 L493.02,187.13 L494.79,187.59 L496.55,188.03 L498.32,188.45 L500.09,188.85 L501.85,189.23 L503.62,189.6 L505.39,189.94 L507.15,190.28 L508.92,190.6 L510.69,190.9 L512.45,191.19 L514.22,191.47 L515.98,191.73 L517.75,191.99 L519.52,192.23 L521.28,192.46 L523.05,192.68 L524.82,192.89 L526.58,193.09 L528.35,193.29 L530.12,193.47 L531.88,193.65 L533.65,193.81 L535.42,193.97 L537.18,194.13 L538.95,194.27 L540.72,194.41 L542.48,194.55 L544.25,194.68 L546.01,194.8 L547.78,194.91 L549.55,195.02 L551.31,195.13 L553.08,195.23 L554.85,195.33 L556.61,195.42 L558.38,195.51 L560.15,195.59 L561.91,195.68 L563.68,195.75 L565.45,195.83 L567.21,195.9 L568.98,195.96 L570.75,196.03 L572.51,196.09 L574.28,196.15 L576.04,196.2 L577.81,196.26 L579.58,196.31 L581.34,196.36 L583.11,196.4 L584.88,196.45 L586.64,196.49 L588.41,196.53 L590.18,196.57 L591.94,196.61 L593.71,196.64 L595.48,196.68 L597.24,196.71 L599.01,196.74 L600.78,196.77 L602.54,196.8 L604.31,196.82 L606.07,196.85 L607.84,196.88 L609.61,196.9 L611.37,196.92 L613.14,196.94 L614.91,196.96 L616.67,196.98 L618.44,197 L620.21,197.02 L621.97,197.04 L623.74,197.05 L625.51,197.07 L627.27,197.08 L629.04,197.1 L630.81,197.11 L632.57,197.12 L634.34,197.14 L636.1,197.15 L637.87,197.16 L639.64,197.17 L641.4,197.18 L643.17,197.19 L644.94,197.2 L646.7,197.21 L648.47,197.22 L650.24,197.22 L652,197.23 L653.77,197.24 L655.54,197.25 L657.3,197.25 L659.07,197.26 L660.84,197.27 L662.6,197.27 L664.37,197.28 L666.13,197.28 L667.9,197.29 L669.67,197.29 L671.43,197.3 L673.2,197.3 L674.97,197.31 L676.73,197.31 L678.5,197.32" fill="none" stroke="#e8702a" stroke-width="1.6" stroke-dasharray="5.5,2.4"/>
<line x1="464" y1="175" x2="464" y2="201.6" stroke="#1a1a1a" stroke-width="1"/>
<line x1="463.5" y1="201.1" x2="683.2" y2="201.1" stroke="#1a1a1a" stroke-width="1"/>
<line x1="460.5" y1="197.4" x2="464" y2="197.4" stroke="#1a1a1a" stroke-width="1"/>
<text x="457.5" y="201.3" font-size="10.42" text-anchor="end" fill="#1a1a1a" textLength="14.79" lengthAdjust="spacingAndGlyphs">0.0</text>
<line x1="460.5" y1="183.6" x2="464" y2="183.6" stroke="#1a1a1a" stroke-width="1"/>
<text x="457.5" y="187.5" font-size="10.42" text-anchor="end" fill="#1a1a1a" textLength="14.79" lengthAdjust="spacingAndGlyphs">2.5</text>
<line x1="464" y1="201.1" x2="464" y2="204.6" stroke="#1a1a1a" stroke-width="1"/>
<line x1="506.9" y1="201.1" x2="506.9" y2="204.6" stroke="#1a1a1a" stroke-width="1"/>
<line x1="549.8" y1="201.1" x2="549.8" y2="204.6" stroke="#1a1a1a" stroke-width="1"/>
<line x1="592.7" y1="201.1" x2="592.7" y2="204.6" stroke="#1a1a1a" stroke-width="1"/>
<line x1="635.6" y1="201.1" x2="635.6" y2="204.6" stroke="#1a1a1a" stroke-width="1"/>
<line x1="678.5" y1="201.1" x2="678.5" y2="204.6" stroke="#1a1a1a" stroke-width="1"/>
<path d="M473.13,214.94 L475.13,214.85 L477.13,214.77 L479.13,214.68 L481.13,214.6 L483.14,214.52 L485.14,214.45 L487.14,214.38 L489.14,214.31 L491.14,214.24 L493.14,214.17 L495.15,214.11 L497.15,214.05 L499.15,213.99 L501.15,213.93 L503.15,213.87 L505.15,213.82 L507.16,213.77 L509.16,213.72 L511.16,213.67 L513.16,213.62 L515.16,213.58 L517.16,213.54 L519.17,213.49 L521.17,213.45 L523.17,213.41 L525.17,213.38 L527.17,213.34 L529.17,213.3 L531.18,213.27 L533.18,213.24 L535.18,213.21 L537.18,213.17 L539.18,213.14 L541.18,213.12 L543.18,213.09 L545.19,213.06 L547.19,213.03 L549.19,213.01 L551.19,212.99 L553.19,212.96 L555.19,212.94 L557.2,212.92 L559.2,212.9 L561.2,212.88 L563.2,212.86 L565.2,212.84 L567.2,212.82 L569.21,212.8 L571.21,212.78 L573.21,212.77 L575.21,212.75 L577.21,212.74 L579.21,212.72 L581.22,212.71 L583.22,212.69 L585.22,212.68 L587.22,212.67 L589.22,212.65 L591.22,212.64 L593.23,212.63 L595.23,212.62 L597.23,212.61 L599.23,212.6 L601.23,212.59 L603.23,212.58 L605.24,212.57 L607.24,212.56 L609.24,212.55 L611.24,212.54 L613.24,212.53 L615.24,212.52 L617.25,212.52 L619.25,212.51 L621.25,212.5 L623.25,212.49 L625.25,212.49 L627.25,212.48 L629.26,212.47 L631.26,212.47 L633.26,212.46 L635.26,212.46 L637.26,212.45 L639.26,212.45 L641.27,212.44 L643.27,212.44 L645.27,212.43 L647.27,212.43 L649.27,212.42 L651.27,212.42 L653.28,212.41 L655.28,212.41 L657.28,212.41 L659.28,212.4 L661.28,212.4 L663.28,212.39 L665.29,212.39 L667.29,212.39 L669.29,212.38 L671.29,212.38" fill="none" stroke="#e8702a" stroke-width="1.6" stroke-dasharray="5.5,2.4"/>
<line x1="464" y1="211.1" x2="464" y2="237.8" stroke="#1a1a1a" stroke-width="1"/>
<line x1="463.5" y1="237.3" x2="683.2" y2="237.3" stroke="#1a1a1a" stroke-width="1"/>
<line x1="460.5" y1="237.3" x2="464" y2="237.3" stroke="#1a1a1a" stroke-width="1"/>
<text x="457.5" y="241.2" font-size="10.42" text-anchor="end" fill="#1a1a1a" textLength="14.79" lengthAdjust="spacingAndGlyphs">0.0</text>
<line x1="460.5" y1="223.5" x2="464" y2="223.5" stroke="#1a1a1a" stroke-width="1"/>
<text x="457.5" y="227.4" font-size="10.42" text-anchor="end" fill="#1a1a1a" textLength="14.79" lengthAdjust="spacingAndGlyphs">2.5</text>
<line x1="469.6" y1="237.3" x2="469.6" y2="240.8" stroke="#1a1a1a" stroke-width="1"/>
<line x1="511.1" y1="237.3" x2="511.1" y2="240.8" stroke="#1a1a1a" stroke-width="1"/>
<line x1="552.6" y1="237.3" x2="552.6" y2="240.8" stroke="#1a1a1a" stroke-width="1"/>
<line x1="594.1" y1="237.3" x2="594.1" y2="240.8" stroke="#1a1a1a" stroke-width="1"/>
<line x1="635.6" y1="237.3" x2="635.6" y2="240.8" stroke="#1a1a1a" stroke-width="1"/>
<line x1="677.1" y1="237.3" x2="677.1" y2="240.8" stroke="#1a1a1a" stroke-width="1"/>
<path d="M473.66,273.2 L477.72,250.37 L479.69,252.25 L481.66,253.93 L483.63,255.14 L485.59,256.15 L487.56,257.06 L489.53,257.95 L491.5,258.87 L493.47,259.77 L495.44,260.64 L497.4,261.45 L499.37,262.17 L501.34,262.78 L503.31,263.28 L505.28,263.76 L507.25,264.2 L509.22,264.62 L511.18,265.01 L513.15,265.37 L515.12,265.72 L517.09,266.04 L519.06,266.35 L521.03,266.65 L523,266.92 L524.96,267.19 L526.93,267.45 L528.9,267.7 L530.87,267.94 L532.84,268.18 L534.81,268.4 L536.77,268.61 L538.74,268.82 L540.71,269.02 L542.68,269.2 L544.65,269.39 L546.62,269.56 L548.59,269.72 L550.55,269.88 L552.52,270.03 L554.49,270.17 L556.46,270.31 L558.43,270.44 L560.4,270.57 L562.36,270.69 L564.33,270.81 L566.3,270.92 L568.27,271.03 L570.24,271.13 L572.21,271.23 L574.18,271.33 L576.14,271.42 L578.11,271.51 L580.08,271.6 L582.05,271.69 L584.02,271.78 L585.99,271.86 L587.96,271.94 L589.92,272.02 L591.89,272.09 L593.86,272.16 L595.83,272.22 L597.8,272.27 L599.77,272.32 L601.73,272.36 L603.7,272.4 L605.67,272.44 L607.64,272.48 L609.61,272.52 L611.58,272.55 L613.55,272.59 L615.51,272.62 L617.48,272.65 L619.45,272.67 L621.42,272.7 L623.39,272.72 L625.36,272.75 L627.32,272.77 L629.29,272.78 L631.26,272.8 L633.23,272.82 L635.2,272.83 L637.17,272.84 L639.14,272.85 L641.1,272.86 L643.07,272.88 L645.04,272.89 L647.01,272.89 L648.98,272.9 L650.95,272.91 L652.92,272.92 L654.88,272.93 L656.85,272.94 L658.82,272.94 L660.79,272.95 L662.76,272.96 L664.73,272.97 L666.69,272.98 L668.66,272.99 L670.63,272.99 L672.6,273" fill="none" stroke="#e8702a" stroke-width="1.6" stroke-dasharray="5.5,2.4"/>
<line x1="463.5" y1="248" x2="463.5" y2="274.6" stroke="#1a1a1a" stroke-width="1"/>
<line x1="463" y1="274.1" x2="683.2" y2="274.1" stroke="#1a1a1a" stroke-width="1"/>
<line x1="460" y1="273.2" x2="463.5" y2="273.2" stroke="#1a1a1a" stroke-width="1"/>
<text x="457" y="277.1" font-size="10.42" text-anchor="end" fill="#1a1a1a" textLength="20.71" lengthAdjust="spacingAndGlyphs">0.00</text>
<line x1="460" y1="248.6" x2="463.5" y2="248.6" stroke="#1a1a1a" stroke-width="1"/>
<text x="457" y="252.5" font-size="10.42" text-anchor="end" fill="#1a1a1a" textLength="20.71" lengthAdjust="spacingAndGlyphs">0.25</text>
<line x1="469.6" y1="274.1" x2="469.6" y2="277.6" stroke="#1a1a1a" stroke-width="1"/>
<text x="469.6" y="288.7" font-size="10.42" text-anchor="middle" fill="#1a1a1a" textLength="5.92" lengthAdjust="spacingAndGlyphs">0</text>
<line x1="510.2" y1="274.1" x2="510.2" y2="277.6" stroke="#1a1a1a" stroke-width="1"/>
<text x="510.2" y="288.7" font-size="10.42" text-anchor="middle" fill="#1a1a1a" textLength="11.83" lengthAdjust="spacingAndGlyphs">10</text>
<line x1="550.8" y1="274.1" x2="550.8" y2="277.6" stroke="#1a1a1a" stroke-width="1"/>
<text x="550.8" y="288.7" font-size="10.42" text-anchor="middle" fill="#1a1a1a" textLength="11.83" lengthAdjust="spacingAndGlyphs">20</text>
<line x1="591.4" y1="274.1" x2="591.4" y2="277.6" stroke="#1a1a1a" stroke-width="1"/>
<text x="591.4" y="288.7" font-size="10.42" text-anchor="middle" fill="#1a1a1a" textLength="11.83" lengthAdjust="spacingAndGlyphs">30</text>
<line x1="632" y1="274.1" x2="632" y2="277.6" stroke="#1a1a1a" stroke-width="1"/>
<text x="632" y="288.7" font-size="10.42" text-anchor="middle" fill="#1a1a1a" textLength="11.83" lengthAdjust="spacingAndGlyphs">40</text>
<line x1="672.6" y1="274.1" x2="672.6" y2="277.6" stroke="#1a1a1a" stroke-width="1"/>
<text x="672.6" y="288.7" font-size="10.42" text-anchor="middle" fill="#1a1a1a" textLength="11.83" lengthAdjust="spacingAndGlyphs">50</text>
<text x="573.3" y="302.6" font-size="12.66" text-anchor="middle" fill="#1a1a1a" textLength="100.98" lengthAdjust="spacingAndGlyphs">consolidation trial</text>
<text x="435.5" y="188" font-size="12.6" fill="#1a1a1a" transform="rotate(-90 435.5 188)" text-anchor="middle"><tspan font-style="italic">W</tspan><tspan font-style="italic" font-size="9" dy="1.2">ch</tspan></text>
<text x="435.5" y="224.5" font-size="12.6" fill="#1a1a1a" transform="rotate(-90 435.5 224.5)" text-anchor="middle"><tspan font-style="italic">W</tspan><tspan font-style="italic" font-size="9" dy="1.2">hh</tspan></text>
<text x="430.8" y="262" font-size="12.6" fill="#1a1a1a" transform="rotate(-90 430.8 262)" text-anchor="middle">Δ<tspan font-style="italic">W</tspan><tspan font-style="italic" font-size="9" dy="1.2">hh</tspan></text>
<path d="M60.8,314 L64.2,314 L64.2,319.3 L66.1,319.3 L62.5,323.8 L58.9,319.3 L60.8,319.3Z" fill="#b0b0b0"/>
<path d="M70.9,314 L74.3,314 L74.3,319.3 L76.2,319.3 L72.6,323.8 L69,319.3 L70.9,319.3Z" fill="#4d4d4d"/>
<path d="M182,314 L185.4,314 L185.4,319.3 L187.3,319.3 L183.7,323.8 L180.1,319.3 L182,319.3Z" fill="#000"/>
<path d="M62.09,328 L62.7,328.05 L63.32,328.1 L63.93,328.14 L64.54,328.19 L65.16,328.24 L65.77,328.29 L66.38,328.34 L66.99,328.4 L67.61,328.47 L68.22,328.54 L68.83,328.62 L69.45,328.71 L70.06,328.8 L70.67,328.89 L71.29,328.99 L71.9,329.09 L72.51,329.19 L73.13,329.29 L73.74,329.39 L74.35,329.48 L74.97,329.63 L75.58,329.79 L76.19,329.96 L76.8,330.11 L77.42,330.26 L78.03,330.4 L78.64,330.53 L79.26,330.65 L79.87,330.77 L80.48,330.89 L81.1,331.01 L81.71,331.13 L82.32,331.24 L82.94,331.35 L83.55,331.46 L84.16,331.56 L84.78,331.66 L85.39,331.76 L86,331.86 L86.61,331.96 L87.23,332.05 L87.84,332.14 L88.45,332.23 L89.07,332.31 L89.68,332.39 L90.29,332.47 L90.91,332.55 L91.52,332.63 L92.13,332.7 L92.75,332.78 L93.36,332.85 L93.97,332.93 L94.59,333 L95.2,333.07 L95.81,333.14 L96.42,333.21 L97.04,333.28 L97.65,333.34 L98.26,333.41 L98.88,333.47 L99.49,333.53 L100.1,333.59 L100.72,333.65 L101.33,333.71 L101.94,333.76 L102.56,333.82 L103.17,333.87 L103.78,333.92 L104.39,333.96 L105.01,334.01 L105.62,334.05 L106.23,334.09 L106.85,334.13 L107.46,334.16 L108.07,334.2 L108.69,334.24 L109.3,334.27 L109.91,334.3 L110.53,334.34 L111.14,334.37 L111.75,334.4 L112.37,334.44 L112.98,334.47 L113.59,334.5 L114.2,334.53 L114.82,334.56 L115.43,334.59 L116.04,334.62 L116.66,334.65 L117.27,334.68 L117.88,334.7 L118.5,334.73 L119.11,334.76 L119.72,334.78 L120.34,334.81 L120.95,334.83 L121.56,334.86 L122.18,334.88 L122.79,334.91 L123.4,334.93 L124.01,334.95 L124.63,334.97 L125.24,334.99 L125.85,335.02 L126.47,335.04 L127.08,335.05 L127.69,335.07 L128.31,335.09 L128.92,335.11 L129.53,335.13 L130.15,335.14 L130.76,335.16 L131.37,335.18 L131.99,335.19 L132.6,335.2 L133.21,335.22 L133.82,335.23 L134.44,335.24 L135.05,335.26 L135.66,335.27 L136.28,335.28 L136.89,335.29 L137.5,335.3 L138.12,335.31 L138.73,335.32 L139.34,335.33 L139.96,335.34 L140.57,335.35 L141.18,335.36 L141.8,335.37 L142.41,335.38 L143.02,335.39 L143.63,335.4 L144.25,335.41 L144.86,335.42 L145.47,335.43 L146.09,335.43 L146.7,335.44 L147.31,335.45 L147.93,335.46 L148.54,335.47 L149.15,335.47 L149.77,335.48 L150.38,335.49 L150.99,335.49 L151.6,335.5 L152.22,335.51 L152.83,335.51 L153.44,335.52 L154.06,335.52 L154.67,335.53 L155.28,335.53 L155.9,335.54 L156.51,335.54 L157.12,335.55 L157.74,335.55 L158.35,335.56 L158.96,335.56 L159.58,335.57 L160.19,335.57 L160.8,335.57 L161.41,335.58 L162.03,335.58 L162.64,335.58 L163.25,335.59 L163.87,335.59 L164.48,335.59 L165.09,335.59 L165.71,335.6 L166.32,335.6 L166.93,335.6 L167.55,335.6 L168.16,335.61 L168.77,335.61 L169.39,335.61 L170,335.61 L170.61,335.62 L171.22,335.62 L171.84,335.62 L172.45,335.62 L173.06,335.63 L173.68,335.63 L174.29,335.63 L174.9,335.63 L175.52,335.63 L176.13,335.64 L176.74,335.64 L177.36,335.64 L177.97,335.64 L178.58,335.64 L179.2,335.65 L179.81,335.65 L180.42,335.65 L181.03,335.65 L181.65,335.66 L182.26,335.66 L182.87,335.66 L183.49,335.66 L184.1,335.66 L184.1,338.73 L183.49,338.73 L182.87,338.73 L182.26,338.72 L181.65,338.72 L181.03,338.72 L180.42,338.72 L179.81,338.71 L179.2,338.71 L178.58,338.71 L177.97,338.71 L177.36,338.71 L176.74,338.7 L176.13,338.7 L175.52,338.7 L174.9,338.7 L174.29,338.7 L173.68,338.69 L173.06,338.69 L172.45,338.69 L171.84,338.69 L171.22,338.68 L170.61,338.68 L170,338.68 L169.39,338.68 L168.77,338.68 L168.16,338.67 L167.55,338.67 L166.93,338.67 L166.32,338.67 L165.71,338.66 L165.09,338.66 L164.48,338.66 L163.87,338.65 L163.25,338.65 L162.64,338.65 L162.03,338.65 L161.41,338.64 L160.8,338.64 L160.19,338.63 L159.58,338.63 L158.96,338.63 L158.35,338.62 L157.74,338.62 L157.12,338.61 L156.51,338.61 L155.9,338.61 L155.28,338.6 L154.67,338.6 L154.06,338.59 L153.44,338.58 L152.83,338.58 L152.22,338.57 L151.6,338.57 L150.99,338.56 L150.38,338.55 L149.77,338.55 L149.15,338.54 L148.54,338.53 L147.93,338.52 L147.31,338.52 L146.7,338.51 L146.09,338.5 L145.47,338.49 L144.86,338.48 L144.25,338.48 L143.63,338.47 L143.02,338.46 L142.41,338.45 L141.8,338.44 L141.18,338.43 L140.57,338.42 L139.96,338.41 L139.34,338.4 L138.73,338.39 L138.12,338.38 L137.5,338.37 L136.89,338.36 L136.28,338.35 L135.66,338.33 L135.05,338.32 L134.44,338.31 L133.82,338.3 L133.21,338.28 L132.6,338.27 L131.99,338.26 L131.37,338.24 L130.76,338.23 L130.15,338.21 L129.53,338.19 L128.92,338.18 L128.31,338.16 L127.69,338.14 L127.08,338.12 L126.47,338.1 L125.85,338.08 L125.24,338.06 L124.63,338.04 L124.01,338.02 L123.4,338 L122.79,337.97 L122.18,337.95 L121.56,337.92 L120.95,337.9 L120.34,337.88 L119.72,337.85 L119.11,337.82 L118.5,337.8 L117.88,337.77 L117.27,337.74 L116.66,337.71 L116.04,337.69 L115.43,337.66 L114.82,337.63 L114.2,337.6 L113.59,337.57 L112.98,337.53 L112.37,337.5 L111.75,337.47 L111.14,337.44 L110.53,337.4 L109.91,337.37 L109.3,337.34 L108.69,337.3 L108.07,337.27 L107.46,337.23 L106.85,337.19 L106.23,337.16 L105.62,337.12 L105.01,337.07 L104.39,337.03 L103.78,336.98 L103.17,336.93 L102.56,336.88 L101.94,336.83 L101.33,336.77 L100.72,336.72 L100.1,336.66 L99.49,336.6 L98.88,336.54 L98.26,336.47 L97.65,336.41 L97.04,336.34 L96.42,336.27 L95.81,336.21 L95.2,336.14 L94.59,336.06 L93.97,335.99 L93.36,335.92 L92.75,335.84 L92.13,335.77 L91.52,335.69 L90.91,335.62 L90.29,335.54 L89.68,335.46 L89.07,335.38 L88.45,335.29 L87.84,335.21 L87.23,335.12 L86.61,335.02 L86,334.93 L85.39,334.83 L84.78,334.73 L84.16,334.63 L83.55,334.52 L82.94,334.41 L82.32,334.3 L81.71,334.19 L81.1,334.08 L80.48,333.96 L79.87,333.84 L79.26,333.72 L78.64,333.59 L78.03,333.46 L77.42,333.32 L76.8,333.18 L76.19,333.02 L75.58,332.86 L74.97,332.7 L74.35,332.5 L73.74,332.26 L73.13,332.01 L72.51,331.76 L71.9,331.5 L71.29,331.25 L70.67,331.01 L70.06,330.76 L69.45,330.52 L68.83,330.28 L68.22,330.05 L67.61,329.83 L66.99,329.61 L66.38,329.4 L65.77,329.19 L65.16,328.99 L64.54,328.79 L63.93,328.59 L63.32,328.4 L62.7,328.2 L62.09,328Z" fill="#e8702a" fill-opacity="0.35" stroke="#e8702a" stroke-opacity="0.315" stroke-width="0.9"/>
<path d="M62.09,410.27 L62.7,408.29 L63.32,406.45 L63.93,404.59 L64.54,402.56 L65.16,400.24 L65.77,397.41 L66.38,393.34 L66.99,388.31 L67.61,382.93 L68.22,377.79 L68.83,373.49 L69.45,369.83 L70.06,366.35 L70.67,363.09 L71.29,360.13 L71.9,357.51 L72.51,355.44 L73.13,353.61 L73.74,351.92 L74.35,350.35 L74.97,348.92 L75.58,347.64 L76.19,346.49 L76.8,345.5 L77.42,344.63 L78.03,343.81 L78.64,343.04 L79.26,342.32 L79.87,341.66 L80.48,341.05 L81.1,340.5 L81.71,340.02 L82.32,339.61 L82.94,339.28 L83.55,338.99 L84.16,338.73 L84.78,338.49 L85.39,338.29 L86,338.1 L86.61,337.93 L87.23,337.77 L87.84,337.62 L88.45,337.49 L89.07,337.37 L89.68,337.26 L90.29,337.15 L90.91,337.06 L91.52,336.98 L92.13,336.91 L92.75,336.85 L93.36,336.79 L93.97,336.73 L94.59,336.67 L95.2,336.62 L95.81,336.57 L96.42,336.52 L97.04,336.47 L97.65,336.43 L98.26,336.39 L98.88,336.35 L99.49,336.32 L100.1,336.29 L100.72,336.26 L101.33,336.23 L101.94,336.21 L102.56,336.19 L103.17,336.18 L103.78,336.17 L104.39,336.16 L105.01,336.15 L105.62,336.15 L106.23,336.15 L106.85,336.15 L107.46,336.16 L108.07,336.17 L108.69,336.18 L109.3,336.18 L109.91,336.17 L110.53,336.15 L111.14,336.12 L111.75,336.1 L112.37,336.08 L112.98,336.06 L113.59,336.04 L114.2,336.02 L114.82,336 L115.43,335.98 L116.04,335.97 L116.66,335.95 L117.27,335.93 L117.88,335.91 L118.5,335.9 L119.11,335.88 L119.72,335.87 L120.34,335.85 L120.95,335.84 L121.56,335.82 L122.18,335.81 L122.79,335.8 L123.4,335.78 L124.01,335.77 L124.63,335.76 L125.24,335.75 L125.85,335.74 L126.47,335.73 L127.08,335.72 L127.69,335.71 L128.31,335.71 L128.92,335.7 L129.53,335.69 L130.15,335.69 L130.76,335.68 L131.37,335.68 L131.99,335.67 L132.6,335.67 L133.21,335.67 L133.82,335.67 L134.44,335.67 L135.05,335.67 L135.66,335.67 L136.28,335.67 L136.89,335.67 L137.5,335.67 L138.12,335.67 L138.73,335.67 L139.34,335.68 L139.96,335.68 L140.57,335.68 L141.18,335.69 L141.8,335.69 L142.41,335.7 L143.02,335.7 L143.63,335.71 L144.25,335.71 L144.86,335.72 L145.47,335.73 L146.09,335.73 L146.7,335.74 L147.31,335.74 L147.93,335.75 L148.54,335.76 L149.15,335.76 L149.77,335.77 L150.38,335.78 L150.99,335.78 L151.6,335.79 L152.22,335.8 L152.83,335.81 L153.44,335.81 L154.06,335.82 L154.67,335.83 L155.28,335.83 L155.9,335.84 L156.51,335.84 L157.12,335.85 L157.74,335.86 L158.35,335.86 L158.96,335.87 L159.58,335.87 L160.19,335.88 L160.8,335.88 L161.41,335.89 L162.03,335.89 L162.64,335.9 L163.25,335.9 L163.87,335.91 L164.48,335.91 L165.09,335.92 L165.71,335.92 L166.32,335.93 L166.93,335.93 L167.55,335.94 L168.16,335.94 L168.77,335.95 L169.39,335.95 L170,335.96 L170.61,335.96 L171.22,335.97 L171.84,335.97 L172.45,335.98 L173.06,335.98 L173.68,335.99 L174.29,335.99 L174.9,336 L175.52,336 L176.13,336.01 L176.74,336.01 L177.36,336.02 L177.97,336.02 L178.58,336.03 L179.2,336.03 L179.81,336.04 L180.42,336.04 L181.03,336.05 L181.65,336.05 L182.26,336.06 L182.87,336.06 L183.49,336.07 L184.1,336.07 L184.1,342.82 L183.49,342.81 L182.87,342.81 L182.26,342.8 L181.65,342.8 L181.03,342.79 L180.42,342.79 L179.81,342.78 L179.2,342.78 L178.58,342.77 L177.97,342.77 L177.36,342.76 L176.74,342.76 L176.13,342.75 L175.52,342.75 L174.9,342.74 L174.29,342.74 L173.68,342.73 L173.06,342.73 L172.45,342.72 L171.84,342.72 L171.22,342.71 L170.61,342.71 L170,342.7 L169.39,342.7 L168.77,342.69 L168.16,342.69 L167.55,342.68 L166.93,342.68 L166.32,342.67 L165.71,342.67 L165.09,342.66 L164.48,342.66 L163.87,342.65 L163.25,342.65 L162.64,342.64 L162.03,342.64 L161.41,342.63 L160.8,342.63 L160.19,342.62 L159.58,342.62 L158.96,342.61 L158.35,342.61 L157.74,342.6 L157.12,342.6 L156.51,342.59 L155.9,342.58 L155.28,342.58 L154.67,342.57 L154.06,342.56 L153.44,342.56 L152.83,342.55 L152.22,342.54 L151.6,342.54 L150.99,342.53 L150.38,342.52 L149.77,342.52 L149.15,342.51 L148.54,342.5 L147.93,342.5 L147.31,342.49 L146.7,342.48 L146.09,342.48 L145.47,342.47 L144.86,342.46 L144.25,342.46 L143.63,342.45 L143.02,342.45 L142.41,342.44 L141.8,342.44 L141.18,342.43 L140.57,342.43 L139.96,342.43 L139.34,342.42 L138.73,342.42 L138.12,342.42 L137.5,342.41 L136.89,342.41 L136.28,342.41 L135.66,342.41 L135.05,342.41 L134.44,342.41 L133.82,342.41 L133.21,342.41 L132.6,342.42 L131.99,342.42 L131.37,342.42 L130.76,342.43 L130.15,342.43 L129.53,342.44 L128.92,342.44 L128.31,342.45 L127.69,342.46 L127.08,342.47 L126.47,342.48 L125.85,342.49 L125.24,342.5 L124.63,342.51 L124.01,342.52 L123.4,342.53 L122.79,342.54 L122.18,342.56 L121.56,342.57 L120.95,342.58 L120.34,342.6 L119.72,342.61 L119.11,342.63 L118.5,342.64 L117.88,342.66 L117.27,342.68 L116.66,342.69 L116.04,342.71 L115.43,342.73 L114.82,342.75 L114.2,342.77 L113.59,342.79 L112.98,342.81 L112.37,342.83 L111.75,342.85 L111.14,342.87 L110.53,342.89 L109.91,342.91 L109.3,342.94 L108.69,342.99 L108.07,343.04 L107.46,343.1 L106.85,343.15 L106.23,343.21 L105.62,343.27 L105.01,343.33 L104.39,343.4 L103.78,343.46 L103.17,343.54 L102.56,343.61 L101.94,343.69 L101.33,343.77 L100.72,343.86 L100.1,343.95 L99.49,344.04 L98.88,344.13 L98.26,344.23 L97.65,344.33 L97.04,344.43 L96.42,344.54 L95.81,344.65 L95.2,344.76 L94.59,344.87 L93.97,344.99 L93.36,345.11 L92.75,345.23 L92.13,345.36 L91.52,345.49 L90.91,345.63 L90.29,345.78 L89.68,345.94 L89.07,346.11 L88.45,346.3 L87.84,346.49 L87.23,346.7 L86.61,346.92 L86,347.15 L85.39,347.4 L84.78,347.66 L84.16,347.93 L83.55,348.19 L82.94,348.47 L82.32,348.81 L81.71,349.22 L81.1,349.7 L80.48,350.25 L79.87,350.85 L79.26,351.52 L78.64,352.24 L78.03,353.01 L77.42,353.83 L76.8,354.7 L76.19,355.69 L75.58,356.83 L74.97,358.12 L74.35,359.55 L73.74,361.11 L73.13,362.81 L72.51,364.64 L71.9,366.6 L71.29,368.78 L70.67,371.3 L70.06,374.12 L69.45,377.16 L68.83,380.38 L68.22,384.24 L67.61,388.94 L66.99,393.88 L66.38,398.46 L65.77,402.09 L65.16,404.48 L64.54,406.37 L63.93,407.95 L63.32,409.37 L62.7,410.78 L62.09,412.31Z" fill="#a040b0" fill-opacity="0.4" stroke="#a040b0" stroke-opacity="0.36000000000000004" stroke-width="0.9"/>
<path d="M62.09,328 L62.7,328.12 L63.32,328.25 L63.93,328.37 L64.54,328.49 L65.16,328.61 L65.77,328.74 L66.38,328.87 L66.99,329.01 L67.61,329.15 L68.22,329.3 L68.83,329.45 L69.45,329.61 L70.06,329.78 L70.67,329.95 L71.29,330.12 L71.9,330.3 L72.51,330.47 L73.13,330.65 L73.74,330.82 L74.35,330.99 L74.97,331.16 L75.58,331.33 L76.19,331.49 L76.8,331.64 L77.42,331.79 L78.03,331.93 L78.64,332.06 L79.26,332.19 L79.87,332.31 L80.48,332.43 L81.1,332.54 L81.71,332.66 L82.32,332.77 L82.94,332.88 L83.55,332.99 L84.16,333.09 L84.78,333.2 L85.39,333.3 L86,333.39 L86.61,333.49 L87.23,333.58 L87.84,333.67 L88.45,333.76 L89.07,333.84 L89.68,333.93 L90.29,334.01 L90.91,334.08 L91.52,334.16 L92.13,334.24 L92.75,334.31 L93.36,334.39 L93.97,334.46 L94.59,334.53 L95.2,334.6 L95.81,334.67 L96.42,334.74 L97.04,334.81 L97.65,334.88 L98.26,334.94 L98.88,335 L99.49,335.07 L100.1,335.13 L100.72,335.18 L101.33,335.24 L101.94,335.3 L102.56,335.35 L103.17,335.4 L103.78,335.45 L104.39,335.5 L105.01,335.54 L105.62,335.58 L106.23,335.62 L106.85,335.66 L107.46,335.7 L108.07,335.73 L108.69,335.77 L109.3,335.8 L109.91,335.84 L110.53,335.87 L111.14,335.9 L111.75,335.94 L112.37,335.97 L112.98,336 L113.59,336.03 L114.2,336.06 L114.82,336.09 L115.43,336.12 L116.04,336.15 L116.66,336.18 L117.27,336.21 L117.88,336.24 L118.5,336.26 L119.11,336.29 L119.72,336.32 L120.34,336.34 L120.95,336.37 L121.56,336.39 L122.18,336.42 L122.79,336.44 L123.4,336.46 L124.01,336.48 L124.63,336.51 L125.24,336.53 L125.85,336.55 L126.47,336.57 L127.08,336.59 L127.69,336.61 L128.31,336.63 L128.92,336.64 L129.53,336.66 L130.15,336.68 L130.76,336.69 L131.37,336.71 L131.99,336.72 L132.6,336.74 L133.21,336.75 L133.82,336.76 L134.44,336.78 L135.05,336.79 L135.66,336.8 L136.28,336.81 L136.89,336.82 L137.5,336.83 L138.12,336.85 L138.73,336.86 L139.34,336.87 L139.96,336.88 L140.57,336.89 L141.18,336.9 L141.8,336.91 L142.41,336.92 L143.02,336.92 L143.63,336.93 L144.25,336.94 L144.86,336.95 L145.47,336.96 L146.09,336.97 L146.7,336.98 L147.31,336.98 L147.93,336.99 L148.54,337 L149.15,337.01 L149.77,337.01 L150.38,337.02 L150.99,337.03 L151.6,337.03 L152.22,337.04 L152.83,337.05 L153.44,337.05 L154.06,337.06 L154.67,337.06 L155.28,337.07 L155.9,337.07 L156.51,337.08 L157.12,337.08 L157.74,337.09 L158.35,337.09 L158.96,337.09 L159.58,337.1 L160.19,337.1 L160.8,337.11 L161.41,337.11 L162.03,337.11 L162.64,337.12 L163.25,337.12 L163.87,337.12 L164.48,337.12 L165.09,337.13 L165.71,337.13 L166.32,337.13 L166.93,337.14 L167.55,337.14 L168.16,337.14 L168.77,337.14 L169.39,337.15 L170,337.15 L170.61,337.15 L171.22,337.15 L171.84,337.15 L172.45,337.16 L173.06,337.16 L173.68,337.16 L174.29,337.16 L174.9,337.16 L175.52,337.17 L176.13,337.17 L176.74,337.17 L177.36,337.17 L177.97,337.18 L178.58,337.18 L179.2,337.18 L179.81,337.18 L180.42,337.18 L181.03,337.19 L181.65,337.19 L182.26,337.19 L182.87,337.19 L183.49,337.2 L184.1,337.2" fill="none" stroke="#e8702a" stroke-width="1.6" stroke-dasharray="5.5,2.4" stroke-linecap="butt" stroke-linejoin="round"/>
<path d="M62.09,411.29 L62.7,409.54 L63.32,407.91 L63.93,406.27 L64.54,404.47 L65.16,402.36 L65.77,399.75 L66.38,395.9 L66.99,391.1 L67.61,385.94 L68.22,381.02 L68.83,376.93 L69.45,373.5 L70.06,370.23 L70.67,367.2 L71.29,364.45 L71.9,362.05 L72.51,360.04 L73.13,358.21 L73.74,356.52 L74.35,354.95 L74.97,353.52 L75.58,352.24 L76.19,351.09 L76.8,350.1 L77.42,349.23 L78.03,348.41 L78.64,347.64 L79.26,346.92 L79.87,346.25 L80.48,345.65 L81.1,345.1 L81.71,344.62 L82.32,344.21 L82.94,343.87 L83.55,343.59 L84.16,343.33 L84.78,343.08 L85.39,342.85 L86,342.63 L86.61,342.42 L87.23,342.23 L87.84,342.06 L88.45,341.89 L89.07,341.74 L89.68,341.6 L90.29,341.47 L90.91,341.35 L91.52,341.24 L92.13,341.13 L92.75,341.04 L93.36,340.95 L93.97,340.86 L94.59,340.77 L95.2,340.69 L95.81,340.61 L96.42,340.53 L97.04,340.45 L97.65,340.38 L98.26,340.31 L98.88,340.24 L99.49,340.18 L100.1,340.12 L100.72,340.06 L101.33,340 L101.94,339.95 L102.56,339.9 L103.17,339.86 L103.78,339.82 L104.39,339.78 L105.01,339.74 L105.62,339.71 L106.23,339.68 L106.85,339.65 L107.46,339.63 L108.07,339.61 L108.69,339.58 L109.3,339.56 L109.91,339.54 L110.53,339.52 L111.14,339.5 L111.75,339.48 L112.37,339.45 L112.98,339.43 L113.59,339.41 L114.2,339.39 L114.82,339.38 L115.43,339.36 L116.04,339.34 L116.66,339.32 L117.27,339.3 L117.88,339.29 L118.5,339.27 L119.11,339.25 L119.72,339.24 L120.34,339.22 L120.95,339.21 L121.56,339.2 L122.18,339.18 L122.79,339.17 L123.4,339.16 L124.01,339.15 L124.63,339.13 L125.24,339.12 L125.85,339.11 L126.47,339.1 L127.08,339.1 L127.69,339.09 L128.31,339.08 L128.92,339.07 L129.53,339.07 L130.15,339.06 L130.76,339.05 L131.37,339.05 L131.99,339.05 L132.6,339.04 L133.21,339.04 L133.82,339.04 L134.44,339.04 L135.05,339.04 L135.66,339.04 L136.28,339.04 L136.89,339.04 L137.5,339.04 L138.12,339.04 L138.73,339.05 L139.34,339.05 L139.96,339.05 L140.57,339.06 L141.18,339.06 L141.8,339.07 L142.41,339.07 L143.02,339.08 L143.63,339.08 L144.25,339.09 L144.86,339.09 L145.47,339.1 L146.09,339.1 L146.7,339.11 L147.31,339.12 L147.93,339.12 L148.54,339.13 L149.15,339.14 L149.77,339.14 L150.38,339.15 L150.99,339.16 L151.6,339.16 L152.22,339.17 L152.83,339.18 L153.44,339.18 L154.06,339.19 L154.67,339.2 L155.28,339.2 L155.9,339.21 L156.51,339.22 L157.12,339.22 L157.74,339.23 L158.35,339.23 L158.96,339.24 L159.58,339.25 L160.19,339.25 L160.8,339.26 L161.41,339.26 L162.03,339.27 L162.64,339.27 L163.25,339.28 L163.87,339.28 L164.48,339.29 L165.09,339.29 L165.71,339.3 L166.32,339.3 L166.93,339.31 L167.55,339.31 L168.16,339.32 L168.77,339.32 L169.39,339.33 L170,339.33 L170.61,339.34 L171.22,339.34 L171.84,339.35 L172.45,339.35 L173.06,339.36 L173.68,339.36 L174.29,339.37 L174.9,339.37 L175.52,339.38 L176.13,339.38 L176.74,339.39 L177.36,339.39 L177.97,339.4 L178.58,339.4 L179.2,339.41 L179.81,339.41 L180.42,339.42 L181.03,339.42 L181.65,339.43 L182.26,339.43 L182.87,339.44 L183.49,339.44 L184.1,339.45" fill="none" stroke="#8c0f9c" stroke-width="1.6" stroke-dasharray="5.5,2.4" stroke-linecap="butt" stroke-linejoin="round"/>
<line x1="62.09" y1="328.2" x2="184.1" y2="328.2" stroke="#1e8c1e" stroke-width="1.15" stroke-dasharray="9.6,2.4,1.5,2.4"/>
<line x1="53.3" y1="428.9" x2="193" y2="428.9" stroke="#333" stroke-width="1.5" stroke-dasharray="1.5,2.3"/>
<line x1="52.6" y1="327.3" x2="52.6" y2="434.9" stroke="#1a1a1a" stroke-width="1"/>
<line x1="52.1" y1="434.4" x2="194.6" y2="434.4" stroke="#1a1a1a" stroke-width="1"/>
<line x1="49.1" y1="430.2" x2="52.6" y2="430.2" stroke="#1a1a1a" stroke-width="1"/>
<text x="46" y="434.1" font-size="10.42" text-anchor="end" fill="#1a1a1a" textLength="20.71" lengthAdjust="spacingAndGlyphs">0.00</text>
<line x1="49.1" y1="404.65" x2="52.6" y2="404.65" stroke="#1a1a1a" stroke-width="1"/>
<text x="46" y="408.55" font-size="10.42" text-anchor="end" fill="#1a1a1a" textLength="20.71" lengthAdjust="spacingAndGlyphs">0.25</text>
<line x1="49.1" y1="379.1" x2="52.6" y2="379.1" stroke="#1a1a1a" stroke-width="1"/>
<text x="46" y="383" font-size="10.42" text-anchor="end" fill="#1a1a1a" textLength="20.71" lengthAdjust="spacingAndGlyphs">0.50</text>
<line x1="49.1" y1="353.55" x2="52.6" y2="353.55" stroke="#1a1a1a" stroke-width="1"/>
<text x="46" y="357.45" font-size="10.42" text-anchor="end" fill="#1a1a1a" textLength="20.71" lengthAdjust="spacingAndGlyphs">0.75</text>
<line x1="49.1" y1="328" x2="52.6" y2="328" stroke="#1a1a1a" stroke-width="1"/>
<text x="46" y="331.9" font-size="10.42" text-anchor="end" fill="#1a1a1a" textLength="20.71" lengthAdjust="spacingAndGlyphs">1.00</text>
<line x1="59.6" y1="434.4" x2="59.6" y2="437.9" stroke="#1a1a1a" stroke-width="1"/>
<text x="59.6" y="449" font-size="10.42" text-anchor="middle" fill="#1a1a1a" textLength="5.92" lengthAdjust="spacingAndGlyphs">0</text>
<line x1="109.4" y1="434.4" x2="109.4" y2="437.9" stroke="#1a1a1a" stroke-width="1"/>
<text x="109.4" y="449" font-size="10.42" text-anchor="middle" fill="#1a1a1a" textLength="11.83" lengthAdjust="spacingAndGlyphs">20</text>
<line x1="159.2" y1="434.4" x2="159.2" y2="437.9" stroke="#1a1a1a" stroke-width="1"/>
<text x="159.2" y="449" font-size="10.42" text-anchor="middle" fill="#1a1a1a" textLength="11.83" lengthAdjust="spacingAndGlyphs">40</text>
<text x="123.3" y="462.6" font-size="12.66" text-anchor="middle" fill="#1a1a1a" textLength="100.98" lengthAdjust="spacingAndGlyphs">consolidation trial</text>
<line x1="84" y1="374" x2="103.8" y2="374" stroke="#e8702a" stroke-width="1.6" stroke-dasharray="5.5,2.4"/>
<text x="111.1" y="377.3" font-size="10.42" text-anchor="start" fill="#1a1a1a" textLength="32.44" lengthAdjust="spacingAndGlyphs">control</text>
<line x1="84" y1="387.65" x2="103.8" y2="387.65" stroke="#8c0f9c" stroke-width="1.6" stroke-dasharray="5.5,2.4"/>
<text x="111.1" y="390.95" font-size="10.42" text-anchor="start" fill="#1a1a1a" textLength="87.35" lengthAdjust="spacingAndGlyphs">cerebellar ablation</text>
<line x1="84" y1="401.3" x2="103.8" y2="401.3" stroke="#1e8c1e" stroke-width="1.6" stroke-dasharray="9.6,2.4,1.5,2.4"/>
<text x="111.1" y="404.6" font-size="10.42" text-anchor="start" fill="#1a1a1a" textLength="77.82" lengthAdjust="spacingAndGlyphs">control (optimal)</text>
<line x1="84" y1="414.95" x2="103.8" y2="414.95" stroke="#444" stroke-width="1.5" stroke-dasharray="1.5,2.5"/>
<text x="111.1" y="418.25" font-size="10.42" text-anchor="start" fill="#1a1a1a" textLength="37.39" lengthAdjust="spacingAndGlyphs">shuffled</text>
<text x="18.0" y="381.3" font-size="12.1" fill="#1a1a1a" transform="rotate(-90 18.0 381.3)" text-anchor="middle" textLength="109.6" lengthAdjust="spacingAndGlyphs">sim(cRNN, cRNN<tspan font-size="8.3" dy="-4.3">pre</tspan><tspan dy="4.3">)</tspan></text>
<path d="M281.3,317 L284.7,317 L284.7,322 L286.6,322 L283,326.8 L279.4,322 L281.3,322Z" fill="#b0b0b0"/>
<path d="M291.4,317 L294.8,317 L294.8,322 L296.7,322 L293.1,326.8 L289.5,322 L291.4,322Z" fill="#4d4d4d"/>
<path d="M403,317 L406.4,317 L406.4,322 L408.3,322 L404.7,326.8 L401.1,322 L403,322Z" fill="#000"/>
<line x1="275.8" y1="331.3" x2="413.5" y2="331.3" stroke="#000" stroke-width="1.5" stroke-dasharray="1.5,2.5"/>
<path d="M283.11,425.2 L283.73,407.53 L284.35,391.96 L284.97,379.49 L285.59,369.06 L286.21,359.3 L286.83,351.56 L287.45,347.7 L288.07,345.36 L288.69,343.72 L289.31,342.34 L289.93,341.55 L290.55,341.37 L291.17,341.25 L291.79,341.19 L292.41,341.34 L293.03,341.84 L293.65,342.53 L294.27,343.21 L294.9,343.83 L295.52,345.54 L296.14,345.86 L296.76,345.38 L297.38,345.88 L298,347.64 L298.62,348.6 L299.24,348.29 L299.86,348.44 L300.48,349.45 L301.1,349.85 L301.72,349.52 L302.34,348.87 L302.96,350.09 L303.58,351.57 L304.2,351.68 L304.82,352.77 L305.44,351.67 L306.06,351.32 L306.68,350.66 L307.3,350.51 L307.92,351.99 L308.54,351.88 L309.16,351.54 L309.78,352.83 L310.4,353.16 L311.02,352.86 L311.65,353.19 L312.27,353.12 L312.89,353.94 L313.51,354.28 L314.13,353.01 L314.75,352.71 L315.37,352.87 L315.99,352.94 L316.61,352.97 L317.23,354.16 L317.85,354.64 L318.47,355.16 L319.09,356 L319.71,356.2 L320.33,355.64 L320.95,354.37 L321.57,355.1 L322.19,355.08 L322.81,355.46 L323.43,356.36 L324.05,356.15 L324.67,356.86 L325.29,356.89 L325.91,355.7 L326.53,356.5 L327.15,357.12 L327.77,356.87 L328.39,356.63 L329.02,356.48 L329.64,357.1 L330.26,357.16 L330.88,357.48 L331.5,358.52 L332.12,358.12 L332.74,358.23 L333.36,358.85 L333.98,358.07 L334.6,358.65 L335.22,358.96 L335.84,358.15 L336.46,358.32 L337.08,359.32 L337.7,360.7 L338.32,360.82 L338.94,359.85 L339.56,359.72 L340.18,359.96 L340.8,359.63 L341.42,359.52 L342.04,359.81 L342.66,359.31 L343.28,359.7 L343.9,360.2 L344.52,358.91 L345.14,358.44 L345.77,360.05 L346.39,360.53 L347.01,359.75 L347.63,359.22 L348.25,359.46 L348.87,360.3 L349.49,360.75 L350.11,360.28 L350.73,359.86 L351.35,360.43 L351.97,360.71 L352.59,360.72 L353.21,360.36 L353.83,360.54 L354.45,360.7 L355.07,360.06 L355.69,360.12 L356.31,360.93 L356.93,360.61 L357.55,360.59 L358.17,361.07 L358.79,361.17 L359.41,362.21 L360.03,361.84 L360.65,361 L361.27,361.21 L361.89,361.29 L362.52,361.62 L363.14,362.16 L363.76,362.02 L364.38,360.91 L365,360.55 L365.62,361.73 L366.24,361.92 L366.86,361.99 L367.48,362.52 L368.1,362 L368.72,362.11 L369.34,363.32 L369.96,363.57 L370.58,362.85 L371.2,362.45 L371.82,362 L372.44,362.44 L373.06,362.73 L373.68,362.28 L374.3,362.72 L374.92,362.59 L375.54,362.34 L376.16,363.15 L376.78,362.92 L377.4,363.11 L378.02,363.59 L378.64,363.11 L379.26,363.22 L379.89,364.33 L380.51,365.71 L381.13,366.04 L381.75,364.9 L382.37,364.02 L382.99,363.7 L383.61,363.23 L384.23,363.8 L384.85,362.47 L385.47,361.92 L386.09,363.79 L386.71,363.13 L387.33,362.94 L387.95,363.41 L388.57,362.54 L389.19,363 L389.81,363.58 L390.43,363.53 L391.05,363.39 L391.67,363.87 L392.29,364.35 L392.91,363.68 L393.53,362.64 L394.15,362.28 L394.77,361.96 L395.39,361.91 L396.01,362.9 L396.64,363.25 L397.26,363.91 L397.88,364.26 L398.5,363.79 L399.12,363.21 L399.74,362.44 L400.36,362.8 L400.98,363.33 L401.6,363.75 L402.22,363.53 L402.84,362.7 L403.46,362.43 L404.08,362.87 L404.7,362.17 L404.7,367.91 L404.08,368.62 L403.46,368.17 L402.84,368.45 L402.22,369.27 L401.6,369.5 L400.98,369.07 L400.36,368.54 L399.74,368.19 L399.12,368.96 L398.5,369.53 L397.88,370.01 L397.26,369.65 L396.64,368.99 L396.01,368.64 L395.39,367.66 L394.77,367.7 L394.15,368.03 L393.53,368.39 L392.91,369.42 L392.29,370.1 L391.67,369.61 L391.05,369.13 L390.43,369.27 L389.81,369.32 L389.19,368.74 L388.57,368.28 L387.95,369.15 L387.33,368.68 L386.71,368.87 L386.09,369.54 L385.47,367.67 L384.85,368.22 L384.23,369.54 L383.61,368.97 L382.99,369.45 L382.37,369.76 L381.75,370.65 L381.13,371.79 L380.51,371.46 L379.89,370.07 L379.26,368.96 L378.64,368.85 L378.02,369.33 L377.4,368.85 L376.78,368.66 L376.16,368.89 L375.54,368.09 L374.92,368.33 L374.3,368.47 L373.68,368.02 L373.06,368.48 L372.44,368.19 L371.82,367.75 L371.2,368.2 L370.58,368.59 L369.96,369.31 L369.34,369.07 L368.72,367.85 L368.1,367.74 L367.48,368.27 L366.86,367.73 L366.24,367.67 L365.62,367.47 L365,366.3 L364.38,366.66 L363.76,367.77 L363.14,367.9 L362.52,367.37 L361.89,367.03 L361.27,366.95 L360.65,366.74 L360.03,367.58 L359.41,367.95 L358.79,366.91 L358.17,366.81 L357.55,366.34 L356.93,366.35 L356.31,366.68 L355.69,365.86 L355.07,365.81 L354.45,366.44 L353.83,366.28 L353.21,366.11 L352.59,366.46 L351.97,366.46 L351.35,366.18 L350.73,365.6 L350.11,366.02 L349.49,366.49 L348.87,366.05 L348.25,365.2 L347.63,364.96 L347.01,365.5 L346.39,366.28 L345.77,365.79 L345.14,364.19 L344.52,364.65 L343.9,365.95 L343.28,365.45 L342.66,365.05 L342.04,365.55 L341.42,365.27 L340.8,365.37 L340.18,365.7 L339.56,365.46 L338.94,365.6 L338.32,366.56 L337.7,366.45 L337.08,365.07 L336.46,364.06 L335.84,363.9 L335.22,364.7 L334.6,364.4 L333.98,363.81 L333.36,364.6 L332.74,363.97 L332.12,363.87 L331.5,364.26 L330.88,363.22 L330.26,362.91 L329.64,362.85 L329.02,362.22 L328.39,362.37 L327.77,362.62 L327.15,362.86 L326.53,362.25 L325.91,361.44 L325.29,362.63 L324.67,362.6 L324.05,361.89 L323.43,362.1 L322.81,361.2 L322.19,360.82 L321.57,360.84 L320.95,360.11 L320.33,361.39 L319.71,361.95 L319.09,361.74 L318.47,360.91 L317.85,360.38 L317.23,359.91 L316.61,358.71 L315.99,358.69 L315.37,358.61 L314.75,358.45 L314.13,358.76 L313.51,360.02 L312.89,359.69 L312.27,358.87 L311.65,358.94 L311.02,358.6 L310.4,358.91 L309.78,358.58 L309.16,357.28 L308.54,357.62 L307.92,357.73 L307.3,356.25 L306.68,356.4 L306.06,357.06 L305.44,357.42 L304.82,355.65 L304.2,354.55 L303.58,354.45 L302.96,352.96 L302.34,351.74 L301.72,352.4 L301.1,352.72 L300.48,352.32 L299.86,351.31 L299.24,351.16 L298.62,351.48 L298,350.51 L297.38,348.75 L296.76,348.26 L296.14,348.73 L295.52,348.41 L294.9,346.7 L294.27,346.09 L293.65,345.4 L293.03,344.71 L292.41,344.21 L291.79,344.07 L291.17,344.12 L290.55,344.24 L289.93,344.43 L289.31,345.21 L288.69,346.59 L288.07,348.24 L287.45,350.58 L286.83,354.43 L286.21,362.17 L285.59,371.93 L284.97,382.36 L284.35,394.83 L283.73,410.4 L283.11,428.07Z" fill="#e8702a" fill-opacity="0.3"/>
<path d="M283.11,426.63 L283.73,408.97 L284.35,393.39 L284.97,380.92 L285.59,370.5 L286.21,360.73 L286.83,352.99 L287.45,349.14 L288.07,346.8 L288.69,345.16 L289.31,343.77 L289.93,342.99 L290.55,342.8 L291.17,342.68 L291.79,342.63 L292.41,342.77 L293.03,343.27 L293.65,343.96 L294.27,344.65 L294.9,345.27 L295.52,346.97 L296.14,347.29 L296.76,346.82 L297.38,347.32 L298,349.08 L298.62,350.04 L299.24,349.73 L299.86,349.88 L300.48,350.89 L301.1,351.29 L301.72,350.96 L302.34,350.31 L302.96,351.53 L303.58,353.01 L304.2,353.11 L304.82,354.21 L305.44,354.54 L306.06,354.19 L306.68,353.53 L307.3,353.38 L307.92,354.86 L308.54,354.75 L309.16,354.41 L309.78,355.71 L310.4,356.03 L311.02,355.73 L311.65,356.06 L312.27,355.99 L312.89,356.81 L313.51,357.15 L314.13,355.89 L314.75,355.58 L315.37,355.74 L315.99,355.81 L316.61,355.84 L317.23,357.03 L317.85,357.51 L318.47,358.03 L319.09,358.87 L319.71,359.08 L320.33,358.52 L320.95,357.24 L321.57,357.97 L322.19,357.95 L322.81,358.33 L323.43,359.23 L324.05,359.02 L324.67,359.73 L325.29,359.76 L325.91,358.57 L326.53,359.38 L327.15,359.99 L327.77,359.75 L328.39,359.5 L329.02,359.35 L329.64,359.97 L330.26,360.03 L330.88,360.35 L331.5,361.39 L332.12,360.99 L332.74,361.1 L333.36,361.73 L333.98,360.94 L334.6,361.52 L335.22,361.83 L335.84,361.02 L336.46,361.19 L337.08,362.19 L337.7,363.57 L338.32,363.69 L338.94,362.72 L339.56,362.59 L340.18,362.83 L340.8,362.5 L341.42,362.39 L342.04,362.68 L342.66,362.18 L343.28,362.58 L343.9,363.08 L344.52,361.78 L345.14,361.31 L345.77,362.92 L346.39,363.4 L347.01,362.63 L347.63,362.09 L348.25,362.33 L348.87,363.18 L349.49,363.62 L350.11,363.15 L350.73,362.73 L351.35,363.31 L351.97,363.58 L352.59,363.59 L353.21,363.23 L353.83,363.41 L354.45,363.57 L355.07,362.94 L355.69,362.99 L356.31,363.8 L356.93,363.48 L357.55,363.47 L358.17,363.94 L358.79,364.04 L359.41,365.08 L360.03,364.71 L360.65,363.87 L361.27,364.08 L361.89,364.16 L362.52,364.49 L363.14,365.03 L363.76,364.89 L364.38,363.79 L365,363.43 L365.62,364.6 L366.24,364.79 L366.86,364.86 L367.48,365.39 L368.1,364.87 L368.72,364.98 L369.34,366.19 L369.96,366.44 L370.58,365.72 L371.2,365.32 L371.82,364.87 L372.44,365.32 L373.06,365.61 L373.68,365.15 L374.3,365.6 L374.92,365.46 L375.54,365.22 L376.16,366.02 L376.78,365.79 L377.4,365.98 L378.02,366.46 L378.64,365.98 L379.26,366.09 L379.89,367.2 L380.51,368.59 L381.13,368.91 L381.75,367.77 L382.37,366.89 L382.99,366.58 L383.61,366.1 L384.23,366.67 L384.85,365.35 L385.47,364.8 L386.09,366.66 L386.71,366 L387.33,365.81 L387.95,366.28 L388.57,365.41 L389.19,365.87 L389.81,366.45 L390.43,366.4 L391.05,366.26 L391.67,366.74 L392.29,367.23 L392.91,366.55 L393.53,365.52 L394.15,365.15 L394.77,364.83 L395.39,364.78 L396.01,365.77 L396.64,366.12 L397.26,366.78 L397.88,367.13 L398.5,366.66 L399.12,366.09 L399.74,365.32 L400.36,365.67 L400.98,366.2 L401.6,366.62 L402.22,366.4 L402.84,365.57 L403.46,365.3 L404.08,365.75 L404.7,365.04" fill="none" stroke="#e8702a" stroke-width="1.6" stroke-dasharray="5.5,2.4" stroke-linejoin="round"/>
<path d="M283.11,425.56 L283.73,419.05 L284.35,412.33 L284.97,405.67 L285.59,399.32 L286.21,393.56 L286.83,388.53 L287.45,383.87 L288.07,379.55 L288.69,375.6 L289.31,372.05 L289.93,368.79 L290.55,365.62 L291.17,362.57 L291.79,359.66 L292.41,356.92 L293.03,354.39 L293.65,352.08 L294.27,350.04 L294.9,348.29 L295.52,346.82 L296.14,345.45 L296.76,344.16 L297.38,342.95 L298,341.84 L298.62,340.83 L299.24,339.93 L299.86,339.15 L300.48,338.5 L301.1,337.98 L301.72,337.53 L302.34,337.12 L302.96,336.72 L303.58,336.34 L304.2,335.98 L304.82,335.65 L305.44,335.33 L306.06,335.03 L306.68,334.75 L307.3,334.49 L307.92,334.25 L308.54,334.03 L309.16,333.82 L309.78,333.63 L310.4,333.46 L311.02,333.3 L311.65,333.16 L312.27,333.03 L312.89,332.92 L313.51,332.82 L314.13,332.72 L314.75,332.62 L315.37,332.53 L315.99,332.45 L316.61,332.37 L317.23,332.29 L317.85,332.22 L318.47,332.15 L319.09,332.09 L319.71,332.04 L320.33,331.99 L320.95,331.95 L321.57,331.91 L322.19,331.88 L322.81,331.86 L323.43,331.84 L324.05,331.82 L324.67,331.8 L325.29,331.78 L325.91,331.76 L326.53,331.74 L327.15,331.72 L327.77,331.71 L328.39,331.69 L329.02,331.68 L329.64,331.66 L330.26,331.31 L330.88,331.48 L331.5,331.42 L332.12,331.71 L332.74,331.7 L333.36,331.87 L333.98,331.61 L334.6,331.61 L335.22,331.45 L335.84,331.58 L336.46,331.34 L337.08,331.13 L337.7,331.05 L338.32,331.27 L338.94,331.51 L339.56,331.33 L340.18,331.09 L340.8,331.27 L341.42,331.49 L342.04,331.85 L342.66,331.83 L343.28,331.96 L343.9,331.79 L344.52,331.8 L345.14,331.42 L345.77,331.36 L346.39,331.35 L347.01,331.66 L347.63,331.85 L348.25,331.56 L348.87,331.55 L349.49,331.66 L350.11,331.85 L350.73,331.71 L351.35,331.62 L351.97,331.43 L352.59,331.46 L353.21,331.33 L353.83,331.64 L354.45,331.69 L355.07,331.77 L355.69,331.95 L356.31,331.92 L356.93,332.13 L357.55,331.88 L358.17,332.1 L358.79,331.65 L359.41,331.62 L360.03,331.36 L360.65,331.5 L361.27,331.71 L361.89,332.1 L362.52,332.26 L363.14,332 L363.76,331.73 L364.38,331.6 L365,331.61 L365.62,331.81 L366.24,331.88 L366.86,331.76 L367.48,331.66 L368.1,331.94 L368.72,332.21 L369.34,332.21 L369.96,331.92 L370.58,332.01 L371.2,331.95 L371.82,332.27 L372.44,332.07 L373.06,331.89 L373.68,331.48 L374.3,331.77 L374.92,331.93 L375.54,332.45 L376.16,332.24 L376.78,332.29 L377.4,332.06 L378.02,332.06 L378.64,332.04 L379.26,331.81 L379.89,331.85 L380.51,331.84 L381.13,332.19 L381.75,332.35 L382.37,332.44 L382.99,332.19 L383.61,332.11 L384.23,332.04 L384.85,332.6 L385.47,333.39 L386.09,334.51 L386.71,335.18 L387.33,335.15 L387.95,334.59 L388.57,333.43 L389.19,332.74 L389.81,332.08 L390.43,332.07 L391.05,331.8 L391.67,332.09 L392.29,332.03 L392.91,332.27 L393.53,332.08 L394.15,332 L394.77,332.1 L395.39,332.3 L396.01,332.63 L396.64,332.66 L397.26,333.15 L397.88,333.7 L398.5,334.63 L399.12,334.95 L399.74,334.82 L400.36,333.97 L400.98,333.18 L401.6,332.67 L402.22,332.47 L402.84,332.33 L403.46,332.57 L404.08,332.62 L404.7,332.59 L404.7,334.74 L404.08,334.77 L403.46,334.72 L402.84,334.49 L402.22,334.62 L401.6,334.83 L400.98,335.33 L400.36,336.12 L399.74,336.97 L399.12,337.1 L398.5,336.78 L397.88,335.86 L397.26,335.31 L396.64,334.81 L396.01,334.79 L395.39,334.46 L394.77,334.25 L394.15,334.16 L393.53,334.23 L392.91,334.42 L392.29,334.19 L391.67,334.25 L391.05,333.96 L390.43,334.23 L389.81,334.24 L389.19,334.89 L388.57,335.59 L387.95,336.75 L387.33,337.31 L386.71,337.33 L386.09,336.66 L385.47,335.54 L384.85,334.75 L384.23,334.2 L383.61,334.26 L382.99,334.35 L382.37,334.6 L381.75,334.51 L381.13,334.35 L380.51,333.99 L379.89,334 L379.26,333.97 L378.64,334.19 L378.02,334.21 L377.4,334.21 L376.78,334.44 L376.16,334.39 L375.54,334.6 L374.92,334.08 L374.3,333.92 L373.68,333.63 L373.06,334.05 L372.44,334.22 L371.82,334.42 L371.2,334.1 L370.58,334.16 L369.96,334.08 L369.34,334.36 L368.72,334.37 L368.1,334.1 L367.48,333.81 L366.86,333.91 L366.24,334.03 L365.62,333.96 L365,333.76 L364.38,333.76 L363.76,333.88 L363.14,334.16 L362.52,334.41 L361.89,334.25 L361.27,333.86 L360.65,333.65 L360.03,333.51 L359.41,333.78 L358.79,333.81 L358.17,334.25 L357.55,334.03 L356.93,334.29 L356.31,334.08 L355.69,334.11 L355.07,333.92 L354.45,333.84 L353.83,333.79 L353.21,333.49 L352.59,333.61 L351.97,333.58 L351.35,333.77 L350.73,333.86 L350.11,334 L349.49,333.82 L348.87,333.7 L348.25,333.72 L347.63,334 L347.01,333.81 L346.39,333.51 L345.77,333.52 L345.14,333.58 L344.52,333.95 L343.9,333.94 L343.28,334.11 L342.66,333.99 L342.04,334 L341.42,333.65 L340.8,333.42 L340.18,333.25 L339.56,333.48 L338.94,333.66 L338.32,333.42 L337.7,333.21 L337.08,333.29 L336.46,333.5 L335.84,333.73 L335.22,333.61 L334.6,333.76 L333.98,333.76 L333.36,334.03 L332.74,333.85 L332.12,333.87 L331.5,333.57 L330.88,333.63 L330.26,333.46 L329.64,333.81 L329.02,333.83 L328.39,333.84 L327.77,333.86 L327.15,333.88 L326.53,333.89 L325.91,333.91 L325.29,333.93 L324.67,333.95 L324.05,333.97 L323.43,333.99 L322.81,334.01 L322.19,334.03 L321.57,334.06 L320.95,334.1 L320.33,334.14 L319.71,334.19 L319.09,334.25 L318.47,334.31 L317.85,334.37 L317.23,334.44 L316.61,334.52 L315.99,334.6 L315.37,334.69 L314.75,334.78 L314.13,334.87 L313.51,334.97 L312.89,335.07 L312.27,335.19 L311.65,335.31 L311.02,335.45 L310.4,335.61 L309.78,335.78 L309.16,335.97 L308.54,336.18 L307.92,336.41 L307.3,336.65 L306.68,336.91 L306.06,337.19 L305.44,337.49 L304.82,337.8 L304.2,338.14 L303.58,338.5 L302.96,338.87 L302.34,339.27 L301.72,339.69 L301.1,340.13 L300.48,340.65 L299.86,341.31 L299.24,342.09 L298.62,342.99 L298,343.99 L297.38,345.1 L296.76,346.31 L296.14,347.6 L295.52,348.98 L294.9,350.45 L294.27,352.2 L293.65,354.24 L293.03,356.54 L292.41,359.08 L291.79,361.81 L291.17,364.72 L290.55,367.78 L289.93,370.94 L289.31,374.2 L288.69,377.76 L288.07,381.71 L287.45,386.02 L286.83,390.68 L286.21,395.72 L285.59,401.48 L284.97,407.82 L284.35,414.49 L283.73,421.21 L283.11,427.71Z" fill="#1e8c1e" fill-opacity="0.3"/>
<path d="M283.11,426.63 L283.73,420.13 L284.35,413.41 L284.97,406.75 L285.59,400.4 L286.21,394.64 L286.83,389.61 L287.45,384.95 L288.07,380.63 L288.69,376.68 L289.31,373.12 L289.93,369.87 L290.55,366.7 L291.17,363.65 L291.79,360.74 L292.41,358 L293.03,355.46 L293.65,353.16 L294.27,351.12 L294.9,349.37 L295.52,347.9 L296.14,346.53 L296.76,345.23 L297.38,344.03 L298,342.92 L298.62,341.91 L299.24,341.01 L299.86,340.23 L300.48,339.58 L301.1,339.05 L301.72,338.61 L302.34,338.19 L302.96,337.8 L303.58,337.42 L304.2,337.06 L304.82,336.73 L305.44,336.41 L306.06,336.11 L306.68,335.83 L307.3,335.57 L307.92,335.33 L308.54,335.1 L309.16,334.9 L309.78,334.71 L310.4,334.53 L311.02,334.38 L311.65,334.23 L312.27,334.11 L312.89,334 L313.51,333.89 L314.13,333.79 L314.75,333.7 L315.37,333.61 L315.99,333.52 L316.61,333.44 L317.23,333.37 L317.85,333.29 L318.47,333.23 L319.09,333.17 L319.71,333.11 L320.33,333.07 L320.95,333.02 L321.57,332.99 L322.19,332.96 L322.81,332.93 L323.43,332.91 L324.05,332.89 L324.67,332.87 L325.29,332.85 L325.91,332.84 L326.53,332.82 L327.15,332.8 L327.77,332.78 L328.39,332.77 L329.02,332.75 L329.64,332.74 L330.26,332.38 L330.88,332.55 L331.5,332.49 L332.12,332.79 L332.74,332.78 L333.36,332.95 L333.98,332.68 L334.6,332.69 L335.22,332.53 L335.84,332.65 L336.46,332.42 L337.08,332.21 L337.7,332.13 L338.32,332.35 L338.94,332.58 L339.56,332.4 L340.18,332.17 L340.8,332.35 L341.42,332.57 L342.04,332.92 L342.66,332.91 L343.28,333.03 L343.9,332.87 L344.52,332.87 L345.14,332.5 L345.77,332.44 L346.39,332.43 L347.01,332.74 L347.63,332.93 L348.25,332.64 L348.87,332.63 L349.49,332.74 L350.11,332.92 L350.73,332.79 L351.35,332.7 L351.97,332.51 L352.59,332.53 L353.21,332.41 L353.83,332.72 L354.45,332.76 L355.07,332.85 L355.69,333.03 L356.31,333 L356.93,333.21 L357.55,332.95 L358.17,333.18 L358.79,332.73 L359.41,332.7 L360.03,332.43 L360.65,332.58 L361.27,332.79 L361.89,333.17 L362.52,333.33 L363.14,333.08 L363.76,332.8 L364.38,332.68 L365,332.69 L365.62,332.88 L366.24,332.95 L366.86,332.84 L367.48,332.73 L368.1,333.02 L368.72,333.29 L369.34,333.28 L369.96,333 L370.58,333.08 L371.2,333.02 L371.82,333.35 L372.44,333.14 L373.06,332.97 L373.68,332.56 L374.3,332.85 L374.92,333.01 L375.54,333.52 L376.16,333.32 L376.78,333.37 L377.4,333.14 L378.02,333.14 L378.64,333.12 L379.26,332.89 L379.89,332.92 L380.51,332.92 L381.13,333.27 L381.75,333.43 L382.37,333.52 L382.99,333.27 L383.61,333.19 L384.23,333.12 L384.85,333.68 L385.47,334.47 L386.09,335.59 L386.71,336.26 L387.33,336.23 L387.95,335.67 L388.57,334.51 L389.19,333.81 L389.81,333.16 L390.43,333.15 L391.05,332.88 L391.67,333.17 L392.29,333.11 L392.91,333.34 L393.53,333.15 L394.15,333.08 L394.77,333.17 L395.39,333.38 L396.01,333.71 L396.64,333.74 L397.26,334.23 L397.88,334.78 L398.5,335.7 L399.12,336.02 L399.74,335.9 L400.36,335.05 L400.98,334.25 L401.6,333.75 L402.22,333.54 L402.84,333.41 L403.46,333.65 L404.08,333.69 L404.7,333.67" fill="none" stroke="#1e8c1e" stroke-width="1.6" stroke-dasharray="9.6,2.4,1.5,2.4" stroke-linejoin="round"/>
<line x1="273.2" y1="327.6" x2="273.2" y2="434.9" stroke="#808080" stroke-width="1.2"/>
<line x1="272.6" y1="434.4" x2="415" y2="434.4" stroke="#1a1a1a" stroke-width="1"/>
<line x1="269.7" y1="403.3" x2="273.2" y2="403.3" stroke="#1a1a1a" stroke-width="1"/>
<text x="266.5" y="407.2" font-size="10.42" text-anchor="end" fill="#1a1a1a" textLength="14.79" lengthAdjust="spacingAndGlyphs">0.8</text>
<line x1="269.7" y1="367.4" x2="273.2" y2="367.4" stroke="#1a1a1a" stroke-width="1"/>
<text x="266.5" y="371.3" font-size="10.42" text-anchor="end" fill="#1a1a1a" textLength="14.79" lengthAdjust="spacingAndGlyphs">0.9</text>
<line x1="269.7" y1="331.5" x2="273.2" y2="331.5" stroke="#1a1a1a" stroke-width="1"/>
<text x="266.5" y="335.4" font-size="10.42" text-anchor="end" fill="#1a1a1a" textLength="14.79" lengthAdjust="spacingAndGlyphs">1.0</text>
<line x1="280.5" y1="434.4" x2="280.5" y2="437.9" stroke="#1a1a1a" stroke-width="1"/>
<text x="280.5" y="449" font-size="10.42" text-anchor="middle" fill="#1a1a1a" textLength="5.92" lengthAdjust="spacingAndGlyphs">0</text>
<line x1="330.18" y1="434.4" x2="330.18" y2="437.9" stroke="#1a1a1a" stroke-width="1"/>
<text x="330.18" y="449" font-size="10.42" text-anchor="middle" fill="#1a1a1a" textLength="11.83" lengthAdjust="spacingAndGlyphs">20</text>
<line x1="379.86" y1="434.4" x2="379.86" y2="437.9" stroke="#1a1a1a" stroke-width="1"/>
<text x="379.86" y="449" font-size="10.42" text-anchor="middle" fill="#1a1a1a" textLength="11.83" lengthAdjust="spacingAndGlyphs">40</text>
<text x="344.2" y="463.3" font-size="12.66" text-anchor="middle" fill="#1a1a1a" textLength="100.98" lengthAdjust="spacingAndGlyphs">consolidation trial</text>
<text x="245.3" y="381.5" font-size="12.0" fill="#1a1a1a" transform="rotate(-90 245.3 381.5)" text-anchor="middle" textLength="125" lengthAdjust="spacingAndGlyphs">sim(RNN, (RNN + <tspan font-style="italic">C</tspan>)<tspan font-size="8.3" dy="-4.3">pre</tspan><tspan dy="4.3">)</tspan></text>
<line x1="496.7" y1="342.3" x2="685" y2="342.3" stroke="#555" stroke-width="1.2" stroke-dasharray="1.2,2.6"/>
<line x1="508" y1="429.4" x2="683.5" y2="372.2" stroke="#222" stroke-width="1.2" stroke-dasharray="4.4,1.9"/>
<path d="M508,429.05 L559,374 L612,373.13 L660.72,363.03" fill="none" stroke="#1e8c1e" stroke-width="1.6" stroke-dasharray="9.6,2.4,1.5,2.4"/>
<path d="M508,423.83 L559,351.36 L612,343.52 L660.72,337.25" fill="none" stroke="#e8702a" stroke-width="1.6" stroke-dasharray="5.5,2.4"/>
<line x1="508" y1="425.92" x2="508" y2="421.74" stroke="#e8702a" stroke-width="1.6"/>
<line x1="505.6" y1="425.92" x2="510.4" y2="425.92" stroke="#e8702a" stroke-width="1.3"/>
<line x1="505.6" y1="421.74" x2="510.4" y2="421.74" stroke="#e8702a" stroke-width="1.3"/>
<line x1="559" y1="369.65" x2="559" y2="333.07" stroke="#e8702a" stroke-width="1.6"/>
<line x1="556.6" y1="369.65" x2="561.4" y2="369.65" stroke="#e8702a" stroke-width="1.3"/>
<line x1="556.6" y1="333.07" x2="561.4" y2="333.07" stroke="#e8702a" stroke-width="1.3"/>
<line x1="612" y1="344.56" x2="612" y2="342.47" stroke="#e8702a" stroke-width="1.6"/>
<line x1="609.6" y1="344.56" x2="614.4" y2="344.56" stroke="#e8702a" stroke-width="1.3"/>
<line x1="609.6" y1="342.47" x2="614.4" y2="342.47" stroke="#e8702a" stroke-width="1.3"/>
<line x1="660.72" y1="341.43" x2="660.72" y2="333.07" stroke="#e8702a" stroke-width="1.6"/>
<line x1="658.32" y1="341.43" x2="663.12" y2="341.43" stroke="#e8702a" stroke-width="1.3"/>
<line x1="658.32" y1="333.07" x2="663.12" y2="333.07" stroke="#e8702a" stroke-width="1.3"/>
<line x1="559" y1="389.33" x2="559" y2="358.67" stroke="#1e8c1e" stroke-width="1.6"/>
<line x1="556.6" y1="389.33" x2="561.4" y2="389.33" stroke="#1e8c1e" stroke-width="1.3"/>
<line x1="556.6" y1="358.67" x2="561.4" y2="358.67" stroke="#1e8c1e" stroke-width="1.3"/>
<line x1="612" y1="381.67" x2="612" y2="364.6" stroke="#1e8c1e" stroke-width="1.6"/>
<line x1="609.6" y1="381.67" x2="614.4" y2="381.67" stroke="#1e8c1e" stroke-width="1.3"/>
<line x1="609.6" y1="364.6" x2="614.4" y2="364.6" stroke="#1e8c1e" stroke-width="1.3"/>
<line x1="660.72" y1="369.48" x2="660.72" y2="356.58" stroke="#1e8c1e" stroke-width="1.6"/>
<line x1="658.32" y1="369.48" x2="663.12" y2="369.48" stroke="#1e8c1e" stroke-width="1.3"/>
<line x1="658.32" y1="356.58" x2="663.12" y2="356.58" stroke="#1e8c1e" stroke-width="1.3"/>
<line x1="493.6" y1="327.5" x2="493.6" y2="434.9" stroke="#1a1a1a" stroke-width="1"/>
<line x1="493.1" y1="434.4" x2="683.6" y2="434.4" stroke="#1a1a1a" stroke-width="1"/>
<line x1="490.1" y1="429.4" x2="493.6" y2="429.4" stroke="#1a1a1a" stroke-width="1"/>
<text x="487" y="433.3" font-size="10.42" text-anchor="end" fill="#1a1a1a" textLength="14.75" lengthAdjust="spacingAndGlyphs">0%</text>
<line x1="490.1" y1="411.98" x2="493.6" y2="411.98" stroke="#1a1a1a" stroke-width="1"/>
<text x="487" y="415.88" font-size="10.42" text-anchor="end" fill="#1a1a1a" textLength="20.67" lengthAdjust="spacingAndGlyphs">10%</text>
<line x1="490.1" y1="394.56" x2="493.6" y2="394.56" stroke="#1a1a1a" stroke-width="1"/>
<text x="487" y="398.46" font-size="10.42" text-anchor="end" fill="#1a1a1a" textLength="20.67" lengthAdjust="spacingAndGlyphs">20%</text>
<line x1="490.1" y1="377.14" x2="493.6" y2="377.14" stroke="#1a1a1a" stroke-width="1"/>
<text x="487" y="381.04" font-size="10.42" text-anchor="end" fill="#1a1a1a" textLength="20.67" lengthAdjust="spacingAndGlyphs">30%</text>
<line x1="490.1" y1="359.72" x2="493.6" y2="359.72" stroke="#1a1a1a" stroke-width="1"/>
<text x="487" y="363.62" font-size="10.42" text-anchor="end" fill="#1a1a1a" textLength="20.67" lengthAdjust="spacingAndGlyphs">40%</text>
<line x1="490.1" y1="342.3" x2="493.6" y2="342.3" stroke="#1a1a1a" stroke-width="1"/>
<text x="487" y="346.2" font-size="10.42" text-anchor="end" fill="#1a1a1a" textLength="20.67" lengthAdjust="spacingAndGlyphs">50%</text>
<line x1="508" y1="434.4" x2="508" y2="437.9" stroke="#1a1a1a" stroke-width="1"/>
<text x="508" y="449" font-size="10.42" text-anchor="middle" fill="#1a1a1a" textLength="14.75" lengthAdjust="spacingAndGlyphs">0%</text>
<line x1="560.9" y1="434.4" x2="560.9" y2="437.9" stroke="#1a1a1a" stroke-width="1"/>
<text x="560.9" y="449" font-size="10.42" text-anchor="middle" fill="#1a1a1a" textLength="20.67" lengthAdjust="spacingAndGlyphs">10%</text>
<line x1="613.8" y1="434.4" x2="613.8" y2="437.9" stroke="#1a1a1a" stroke-width="1"/>
<text x="613.8" y="449" font-size="10.42" text-anchor="middle" fill="#1a1a1a" textLength="20.67" lengthAdjust="spacingAndGlyphs">20%</text>
<line x1="666.7" y1="434.4" x2="666.7" y2="437.9" stroke="#1a1a1a" stroke-width="1"/>
<text x="666.7" y="449" font-size="10.42" text-anchor="middle" fill="#1a1a1a" textLength="20.67" lengthAdjust="spacingAndGlyphs">30%</text>
<text x="588.6" y="462.2" font-size="12.66" text-anchor="middle" fill="#1a1a1a" textLength="107.16" lengthAdjust="spacingAndGlyphs">pre-cons. error (%)</text>
<text x="460.1" y="380.4" font-size="12.66" text-anchor="middle" fill="#1a1a1a" textLength="112.79" lengthAdjust="spacingAndGlyphs" transform="rotate(-90 460.1 380.4)">post-cons. error (%)</text>
</svg></body></html>
